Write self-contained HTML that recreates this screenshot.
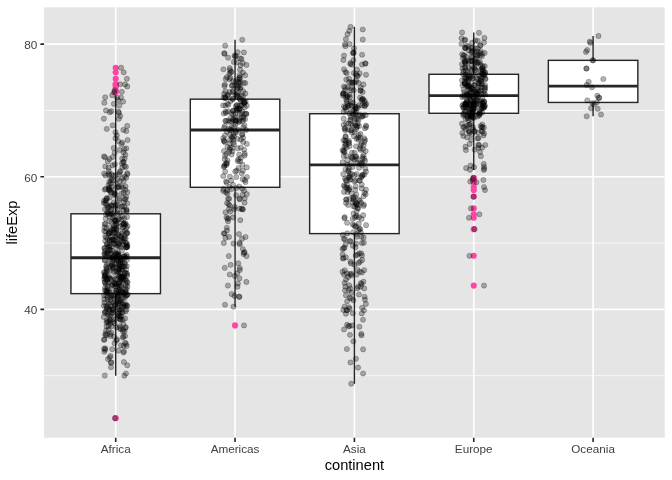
<!DOCTYPE html>
<html><head><meta charset="utf-8"><title>lifeExp by continent</title>
<style>html,body{margin:0;padding:0;background:#fff}svg{display:block;will-change:transform;font-family:"Liberation Sans",sans-serif}</style>
</head><body>
<svg width="672" height="480" viewBox="0 0 672 480">
<rect width="672" height="480" fill="#fff"/>
<rect x="44.1" y="7.3" width="620.6" height="430.4" fill="#E5E5E5"/>
<path d="M44.1 375.69H664.7M44.1 243.06H664.7M44.1 110.44H664.7" stroke="#fff" stroke-width="0.71" fill="none"/>
<path d="M44.1 309.38H664.7M44.1 176.75H664.7M44.1 44.12H664.7M115.71 7.3V437.7M235.05 7.3V437.7M354.4 7.3V437.7M473.75 7.3V437.7M593.09 7.3V437.7" stroke="#fff" stroke-width="1.6" fill="none"/>
<g fill="#FF46A5"><circle cx="115.71" cy="418.14" r="3.07"/><circle cx="115.71" cy="92.29" r="3.07"/><circle cx="115.71" cy="91.86" r="3.07"/><circle cx="115.71" cy="90.27" r="3.07"/><circle cx="115.71" cy="86.47" r="3.07"/><circle cx="115.71" cy="84.42" r="3.07"/><circle cx="115.71" cy="84.23" r="3.07"/><circle cx="115.71" cy="78.79" r="3.07"/><circle cx="115.71" cy="72.35" r="3.07"/><circle cx="115.71" cy="67.72" r="3.07"/><circle cx="235.05" cy="325.43" r="3.07"/><circle cx="473.75" cy="285.6" r="3.07"/><circle cx="473.75" cy="255.8" r="3.07"/><circle cx="473.75" cy="229.15" r="3.07"/><circle cx="473.75" cy="217.73" r="3.07"/><circle cx="473.75" cy="214.31" r="3.07"/><circle cx="473.75" cy="208.38" r="3.07"/><circle cx="473.75" cy="196.61" r="3.07"/><circle cx="473.75" cy="190.04" r="3.07"/><circle cx="473.75" cy="187.03" r="3.07"/><circle cx="473.75" cy="182.29" r="3.07"/><circle cx="473.75" cy="181.53" r="3.07"/><circle cx="473.75" cy="180.02" r="3.07"/><circle cx="473.75" cy="179.4" r="3.07"/><circle cx="473.75" cy="177.94" r="3.07"/></g>
<g stroke="#262626" stroke-width="1.42" fill="none"><path d="M115.71 95.18V213.81M115.71 293.64V375.69" /><rect x="70.95" y="213.81" width="89.51" height="79.83" fill="#fff"/><path d="M70.95 257.71H160.46" stroke-width="2.85"/><path d="M235.05 39.79V99.17M235.05 187.29V306.63" /><rect x="190.3" y="99.17" width="89.51" height="88.13" fill="#fff"/><path d="M190.3 130.01H279.81" stroke-width="2.85"/><path d="M354.4 26.86V113.72M354.4 233.61V383.64" /><rect x="309.65" y="113.72" width="89.51" height="119.89" fill="#fff"/><path d="M309.65 164.87H399.15" stroke-width="2.85"/><path d="M473.75 32.47V74.29M473.75 113.29V169.88" /><rect x="428.99" y="74.29" width="89.51" height="39" fill="#fff"/><path d="M428.99 95.58H518.5" stroke-width="2.85"/><path d="M593.09 35.94V60.35M593.09 102.45V116.27" /><rect x="548.34" y="60.35" width="89.51" height="42.09" fill="#fff"/><path d="M548.34 86.13H637.85" stroke-width="2.85"/></g>
<g fill="#000" fill-opacity=".29" stroke="#000" stroke-opacity=".26" stroke-width=".94"><circle cx="351.25" cy="383.64" r="2.6"/><circle cx="363.1" cy="373.49" r="2.6"/><circle cx="350.5" cy="362.45" r="2.6"/><circle cx="346.9" cy="349.03" r="2.6"/><circle cx="361.5" cy="335.32" r="2.6"/><circle cx="363" cy="319.73" r="2.6"/><circle cx="364" cy="310.34" r="2.6"/><circle cx="365.9" cy="303.93" r="2.6"/><circle cx="351" cy="298.28" r="2.6"/><circle cx="349.6" cy="297.69" r="2.6"/><circle cx="345.9" cy="295.26" r="2.6"/><circle cx="361.65" cy="283.99" r="2.6"/><circle cx="470.9" cy="208.38" r="2.6"/><circle cx="470.25" cy="181.53" r="2.6"/><circle cx="478.4" cy="144.79" r="2.6"/><circle cx="483.52" cy="135.5" r="2.6"/><circle cx="466.9" cy="125.76" r="2.6"/><circle cx="472.6" cy="117.53" r="2.6"/><circle cx="484.04" cy="107.65" r="2.6"/><circle cx="462.41" cy="97.18" r="2.6"/><circle cx="476.15" cy="99.95" r="2.6"/><circle cx="484.49" cy="90.88" r="2.6"/><circle cx="467.31" cy="72.96" r="2.6"/><circle cx="474.9" cy="67.85" r="2.6"/><circle cx="125.47" cy="288.97" r="2.6"/><circle cx="106.95" cy="271.68" r="2.6"/><circle cx="116.27" cy="254.32" r="2.6"/><circle cx="121.68" cy="233.73" r="2.6"/><circle cx="119.74" cy="213.1" r="2.6"/><circle cx="114.94" cy="189.92" r="2.6"/><circle cx="108.66" cy="167.68" r="2.6"/><circle cx="115.49" cy="138.3" r="2.6"/><circle cx="112.66" cy="125.4" r="2.6"/><circle cx="120.2" cy="116.06" r="2.6"/><circle cx="113.9" cy="103.85" r="2.6"/><circle cx="112.2" cy="95.18" r="2.6"/><circle cx="104.75" cy="375.59" r="2.6"/><circle cx="111.4" cy="362.43" r="2.6"/><circle cx="112.25" cy="349.16" r="2.6"/><circle cx="110.36" cy="336" r="2.6"/><circle cx="114.58" cy="323.12" r="2.6"/><circle cx="112.2" cy="312.8" r="2.6"/><circle cx="119.46" cy="309.76" r="2.6"/><circle cx="112.61" cy="310" r="2.6"/><circle cx="114.73" cy="305.09" r="2.6"/><circle cx="120.94" cy="302.99" r="2.6"/><circle cx="113.63" cy="302.73" r="2.6"/><circle cx="125.41" cy="291.27" r="2.6"/><circle cx="227.43" cy="160.27" r="2.6"/><circle cx="240.81" cy="147.58" r="2.6"/><circle cx="233.2" cy="142.65" r="2.6"/><circle cx="233.3" cy="139.39" r="2.6"/><circle cx="238.26" cy="129.9" r="2.6"/><circle cx="235.6" cy="120.51" r="2.6"/><circle cx="233.02" cy="110.82" r="2.6"/><circle cx="223.15" cy="105.31" r="2.6"/><circle cx="225.32" cy="98.05" r="2.6"/><circle cx="240.05" cy="88.72" r="2.6"/><circle cx="235.63" cy="81.66" r="2.6"/><circle cx="239.74" cy="75.16" r="2.6"/><circle cx="586.7" cy="116.27" r="2.6"/><circle cx="591.1" cy="108.25" r="2.6"/><circle cx="594" cy="104.27" r="2.6"/><circle cx="592.4" cy="103.14" r="2.6"/><circle cx="598.9" cy="97.64" r="2.6"/><circle cx="592" cy="87.29" r="2.6"/><circle cx="603.3" cy="79.01" r="2.6"/><circle cx="586.3" cy="68.53" r="2.6"/><circle cx="592.6" cy="60.31" r="2.6"/><circle cx="586" cy="51.88" r="2.6"/><circle cx="589.8" cy="41.67" r="2.6"/><circle cx="598.5" cy="35.94" r="2.6"/><circle cx="469.18" cy="131.66" r="2.6"/><circle cx="472.86" cy="127.15" r="2.6"/><circle cx="479.52" cy="113.49" r="2.6"/><circle cx="473.41" cy="109.51" r="2.6"/><circle cx="465.08" cy="106.26" r="2.6"/><circle cx="470.01" cy="96.05" r="2.6"/><circle cx="469.56" cy="89.35" r="2.6"/><circle cx="468.98" cy="77.68" r="2.6"/><circle cx="465.76" cy="70.38" r="2.6"/><circle cx="471.71" cy="60.64" r="2.6"/><circle cx="472.51" cy="50.89" r="2.6"/><circle cx="480.31" cy="45.26" r="2.6"/><circle cx="361.47" cy="236.84" r="2.6"/><circle cx="354.93" cy="217.65" r="2.6"/><circle cx="353.46" cy="197.16" r="2.6"/><circle cx="361.04" cy="177.26" r="2.6"/><circle cx="363.64" cy="154.87" r="2.6"/><circle cx="358.58" cy="139.66" r="2.6"/><circle cx="361.57" cy="116.72" r="2.6"/><circle cx="364.88" cy="105.46" r="2.6"/><circle cx="343.44" cy="93.19" r="2.6"/><circle cx="363.37" cy="84.41" r="2.6"/><circle cx="349.07" cy="78.64" r="2.6"/><circle cx="353.82" cy="73.07" r="2.6"/><circle cx="349.6" cy="326.06" r="2.6"/><circle cx="345.9" cy="313.7" r="2.6"/><circle cx="347.1" cy="301.31" r="2.6"/><circle cx="358.19" cy="286.48" r="2.6"/><circle cx="344.12" cy="274.55" r="2.6"/><circle cx="350.99" cy="263.47" r="2.6"/><circle cx="361.87" cy="243" r="2.6"/><circle cx="352.67" cy="224.37" r="2.6"/><circle cx="356.78" cy="203.16" r="2.6"/><circle cx="359.85" cy="180.65" r="2.6"/><circle cx="362.07" cy="163.4" r="2.6"/><circle cx="360.62" cy="149.81" r="2.6"/><circle cx="461.98" cy="123.7" r="2.6"/><circle cx="471.84" cy="115.48" r="2.6"/><circle cx="472.87" cy="108.78" r="2.6"/><circle cx="463.14" cy="104.2" r="2.6"/><circle cx="474.74" cy="100.89" r="2.6"/><circle cx="476.32" cy="91.87" r="2.6"/><circle cx="481.59" cy="84.38" r="2.6"/><circle cx="484.29" cy="74.96" r="2.6"/><circle cx="464.87" cy="67.6" r="2.6"/><circle cx="467.31" cy="60.5" r="2.6"/><circle cx="477.55" cy="55.27" r="2.6"/><circle cx="464.97" cy="47.83" r="2.6"/><circle cx="109.12" cy="321.16" r="2.6"/><circle cx="117.49" cy="307" r="2.6"/><circle cx="107.82" cy="292.02" r="2.6"/><circle cx="122.44" cy="276.98" r="2.6"/><circle cx="124.23" cy="262.86" r="2.6"/><circle cx="104.58" cy="248.43" r="2.6"/><circle cx="116.49" cy="237.07" r="2.6"/><circle cx="122.8" cy="227.57" r="2.6"/><circle cx="127.05" cy="217.08" r="2.6"/><circle cx="110.32" cy="211.39" r="2.6"/><circle cx="107.81" cy="213.85" r="2.6"/><circle cx="124.7" cy="198.45" r="2.6"/><circle cx="233.5" cy="306.63" r="2.6"/><circle cx="239.4" cy="296.84" r="2.6"/><circle cx="237.5" cy="286.64" r="2.6"/><circle cx="234.75" cy="276.01" r="2.6"/><circle cx="230.6" cy="264.85" r="2.6"/><circle cx="223.8" cy="242.91" r="2.6"/><circle cx="233" cy="217.47" r="2.6"/><circle cx="242.4" cy="194.98" r="2.6"/><circle cx="236.24" cy="177.04" r="2.6"/><circle cx="227.05" cy="163.16" r="2.6"/><circle cx="223.97" cy="151" r="2.6"/><circle cx="229.84" cy="139.92" r="2.6"/><circle cx="469" cy="217.73" r="2.6"/><circle cx="484" cy="187.03" r="2.6"/><circle cx="483.75" cy="163.95" r="2.6"/><circle cx="485.25" cy="144.99" r="2.6"/><circle cx="463.33" cy="127.35" r="2.6"/><circle cx="465.38" cy="111.37" r="2.6"/><circle cx="462.37" cy="105.86" r="2.6"/><circle cx="474.34" cy="102.88" r="2.6"/><circle cx="478.44" cy="95.99" r="2.6"/><circle cx="472" cy="88.93" r="2.6"/><circle cx="465.02" cy="83.32" r="2.6"/><circle cx="469.72" cy="78.26" r="2.6"/><circle cx="117.86" cy="258.83" r="2.6"/><circle cx="126.23" cy="245.6" r="2.6"/><circle cx="127.46" cy="232.98" r="2.6"/><circle cx="109.54" cy="221.19" r="2.6"/><circle cx="104.03" cy="203.12" r="2.6"/><circle cx="123.6" cy="181.27" r="2.6"/><circle cx="125.89" cy="166.91" r="2.6"/><circle cx="114.72" cy="152.73" r="2.6"/><circle cx="122.19" cy="158.55" r="2.6"/><circle cx="124.45" cy="226.11" r="2.6"/><circle cx="118.32" cy="265.38" r="2.6"/><circle cx="124.6" cy="238.24" r="2.6"/><circle cx="245.5" cy="236.98" r="2.6"/><circle cx="228" cy="221.28" r="2.6"/><circle cx="229.74" cy="205.5" r="2.6"/><circle cx="226" cy="192.45" r="2.6"/><circle cx="244.86" cy="180.04" r="2.6"/><circle cx="223.85" cy="166.88" r="2.6"/><circle cx="239.17" cy="154.63" r="2.6"/><circle cx="224.82" cy="142.23" r="2.6"/><circle cx="231.73" cy="129.95" r="2.6"/><circle cx="233.1" cy="114.5" r="2.6"/><circle cx="227.45" cy="103.77" r="2.6"/><circle cx="235.56" cy="94.59" r="2.6"/><circle cx="472.5" cy="179.4" r="2.6"/><circle cx="469.38" cy="132.92" r="2.6"/><circle cx="479.41" cy="113.69" r="2.6"/><circle cx="465.64" cy="107.65" r="2.6"/><circle cx="466.41" cy="104.47" r="2.6"/><circle cx="470.27" cy="105.07" r="2.6"/><circle cx="470.84" cy="103.28" r="2.6"/><circle cx="466.74" cy="101.55" r="2.6"/><circle cx="483.74" cy="102.55" r="2.6"/><circle cx="481.58" cy="108.32" r="2.6"/><circle cx="464.36" cy="96.25" r="2.6"/><circle cx="470.63" cy="90.51" r="2.6"/><circle cx="110.8" cy="362.59" r="2.6"/><circle cx="114.54" cy="343.16" r="2.6"/><circle cx="110.37" cy="323.87" r="2.6"/><circle cx="115.75" cy="304.75" r="2.6"/><circle cx="125.79" cy="285.56" r="2.6"/><circle cx="112.9" cy="268.68" r="2.6"/><circle cx="119.29" cy="255.52" r="2.6"/><circle cx="117.99" cy="246" r="2.6"/><circle cx="121.72" cy="241.34" r="2.6"/><circle cx="105.24" cy="240.92" r="2.6"/><circle cx="121.55" cy="238.75" r="2.6"/><circle cx="126.36" cy="227.84" r="2.6"/><circle cx="118.18" cy="315.8" r="2.6"/><circle cx="110.64" cy="305.84" r="2.6"/><circle cx="119.82" cy="295.82" r="2.6"/><circle cx="120.77" cy="285.85" r="2.6"/><circle cx="119.44" cy="282.47" r="2.6"/><circle cx="107.28" cy="270.19" r="2.6"/><circle cx="127.01" cy="259.83" r="2.6"/><circle cx="126.58" cy="254.93" r="2.6"/><circle cx="113.91" cy="277.97" r="2.6"/><circle cx="117.94" cy="274.06" r="2.6"/><circle cx="104.72" cy="260.57" r="2.6"/><circle cx="127.37" cy="245.85" r="2.6"/><circle cx="352.75" cy="313.24" r="2.6"/><circle cx="353.4" cy="300.32" r="2.6"/><circle cx="360.63" cy="286.73" r="2.6"/><circle cx="346.95" cy="273.47" r="2.6"/><circle cx="349" cy="307.27" r="2.6"/><circle cx="358.1" cy="367.6" r="2.6"/><circle cx="356.69" cy="236.72" r="2.6"/><circle cx="344.66" cy="217.11" r="2.6"/><circle cx="363.84" cy="204.58" r="2.6"/><circle cx="353.5" cy="199.73" r="2.6"/><circle cx="353.08" cy="198.29" r="2.6"/><circle cx="344.96" cy="178.59" r="2.6"/><circle cx="120.12" cy="319.17" r="2.6"/><circle cx="123.27" cy="306.54" r="2.6"/><circle cx="118.8" cy="291.85" r="2.6"/><circle cx="109.55" cy="277.55" r="2.6"/><circle cx="122.52" cy="262.63" r="2.6"/><circle cx="107.25" cy="247.34" r="2.6"/><circle cx="123.52" cy="223.43" r="2.6"/><circle cx="117.63" cy="210.01" r="2.6"/><circle cx="110.68" cy="214.46" r="2.6"/><circle cx="116.02" cy="228.48" r="2.6"/><circle cx="118.78" cy="244.02" r="2.6"/><circle cx="109.95" cy="240.21" r="2.6"/><circle cx="243.33" cy="118.73" r="2.6"/><circle cx="233.17" cy="110.7" r="2.6"/><circle cx="244.42" cy="101.82" r="2.6"/><circle cx="243.06" cy="96.31" r="2.6"/><circle cx="225.49" cy="91.34" r="2.6"/><circle cx="238.54" cy="82.52" r="2.6"/><circle cx="230.53" cy="72.24" r="2.6"/><circle cx="246.4" cy="64.95" r="2.6"/><circle cx="228.1" cy="57.72" r="2.6"/><circle cx="224.3" cy="53.34" r="2.6"/><circle cx="225.2" cy="45.65" r="2.6"/><circle cx="242.25" cy="39.79" r="2.6"/><circle cx="117.08" cy="339.46" r="2.6"/><circle cx="111.6" cy="326.19" r="2.6"/><circle cx="104.62" cy="312.86" r="2.6"/><circle cx="121.76" cy="299.58" r="2.6"/><circle cx="117.18" cy="286.45" r="2.6"/><circle cx="125.12" cy="264.45" r="2.6"/><circle cx="118.05" cy="254.37" r="2.6"/><circle cx="111.82" cy="239.85" r="2.6"/><circle cx="127.29" cy="247.07" r="2.6"/><circle cx="106.54" cy="269.15" r="2.6"/><circle cx="105.03" cy="287.44" r="2.6"/><circle cx="121.26" cy="277.94" r="2.6"/><circle cx="112.63" cy="322.03" r="2.6"/><circle cx="112.4" cy="310.17" r="2.6"/><circle cx="124.7" cy="298" r="2.6"/><circle cx="111.59" cy="285.5" r="2.6"/><circle cx="124.99" cy="272.45" r="2.6"/><circle cx="119.14" cy="260.42" r="2.6"/><circle cx="111.63" cy="246.27" r="2.6"/><circle cx="105.19" cy="236.09" r="2.6"/><circle cx="109.62" cy="231.63" r="2.6"/><circle cx="126.89" cy="232.63" r="2.6"/><circle cx="113.45" cy="239.58" r="2.6"/><circle cx="107.59" cy="238.75" r="2.6"/><circle cx="230.23" cy="211.6" r="2.6"/><circle cx="244.59" cy="202.79" r="2.6"/><circle cx="227.06" cy="190.52" r="2.6"/><circle cx="241.69" cy="173.28" r="2.6"/><circle cx="226.34" cy="153.93" r="2.6"/><circle cx="246.07" cy="129.99" r="2.6"/><circle cx="235.77" cy="106.69" r="2.6"/><circle cx="224.15" cy="93.91" r="2.6"/><circle cx="245.34" cy="83.08" r="2.6"/><circle cx="231.67" cy="71.87" r="2.6"/><circle cx="240" cy="58.32" r="2.6"/><circle cx="224.5" cy="53.72" r="2.6"/><circle cx="344.68" cy="282.85" r="2.6"/><circle cx="345" cy="239.42" r="2.6"/><circle cx="346.03" cy="279.53" r="2.6"/><circle cx="346.31" cy="187.49" r="2.6"/><circle cx="343.72" cy="156.07" r="2.6"/><circle cx="343.59" cy="150.44" r="2.6"/><circle cx="365.1" cy="140.11" r="2.6"/><circle cx="344.64" cy="128.51" r="2.6"/><circle cx="354.6" cy="119.12" r="2.6"/><circle cx="345.3" cy="107.61" r="2.6"/><circle cx="347.59" cy="96.99" r="2.6"/><circle cx="360.68" cy="90.8" r="2.6"/><circle cx="242" cy="238.8" r="2.6"/><circle cx="234.33" cy="209.12" r="2.6"/><circle cx="223.25" cy="190.92" r="2.6"/><circle cx="246.97" cy="177" r="2.6"/><circle cx="224.26" cy="165.99" r="2.6"/><circle cx="232.42" cy="151.31" r="2.6"/><circle cx="235.99" cy="132.63" r="2.6"/><circle cx="244.4" cy="125.24" r="2.6"/><circle cx="242.77" cy="120.91" r="2.6"/><circle cx="237.66" cy="108.36" r="2.6"/><circle cx="232.63" cy="99.28" r="2.6"/><circle cx="243.04" cy="91.28" r="2.6"/><circle cx="124.52" cy="304.64" r="2.6"/><circle cx="124.58" cy="293.06" r="2.6"/><circle cx="120.9" cy="279.75" r="2.6"/><circle cx="106.11" cy="266.46" r="2.6"/><circle cx="110.9" cy="250.07" r="2.6"/><circle cx="115.37" cy="236.84" r="2.6"/><circle cx="115.83" cy="223.61" r="2.6"/><circle cx="123.65" cy="210.4" r="2.6"/><circle cx="109.45" cy="190.42" r="2.6"/><circle cx="119.64" cy="172.37" r="2.6"/><circle cx="112.7" cy="157.03" r="2.6"/><circle cx="122.28" cy="142.59" r="2.6"/><circle cx="108.45" cy="315.06" r="2.6"/><circle cx="115.15" cy="305.05" r="2.6"/><circle cx="106.24" cy="295.3" r="2.6"/><circle cx="108.83" cy="282.48" r="2.6"/><circle cx="126.09" cy="269.66" r="2.6"/><circle cx="111.32" cy="257.63" r="2.6"/><circle cx="125.09" cy="257.76" r="2.6"/><circle cx="116.29" cy="260.23" r="2.6"/><circle cx="104.7" cy="272.59" r="2.6"/><circle cx="122.7" cy="292.22" r="2.6"/><circle cx="105.01" cy="276.45" r="2.6"/><circle cx="123.51" cy="266.53" r="2.6"/><circle cx="103.98" cy="295.38" r="2.6"/><circle cx="119.86" cy="275.87" r="2.6"/><circle cx="107.73" cy="253.44" r="2.6"/><circle cx="111.96" cy="229.54" r="2.6"/><circle cx="126.51" cy="210.52" r="2.6"/><circle cx="115.38" cy="205.76" r="2.6"/><circle cx="119.47" cy="198.67" r="2.6"/><circle cx="121.45" cy="193.53" r="2.6"/><circle cx="106.4" cy="200.4" r="2.6"/><circle cx="123.79" cy="223.42" r="2.6"/><circle cx="125.59" cy="223.37" r="2.6"/><circle cx="107.48" cy="207.77" r="2.6"/><circle cx="236.16" cy="195.28" r="2.6"/><circle cx="229.89" cy="176.58" r="2.6"/><circle cx="240.8" cy="157.9" r="2.6"/><circle cx="223.79" cy="140.78" r="2.6"/><circle cx="235.35" cy="124.7" r="2.6"/><circle cx="242.04" cy="105.46" r="2.6"/><circle cx="240.66" cy="87.56" r="2.6"/><circle cx="225.7" cy="78.93" r="2.6"/><circle cx="243" cy="72.55" r="2.6"/><circle cx="236.8" cy="62.29" r="2.6"/><circle cx="235.2" cy="56.57" r="2.6"/><circle cx="237.7" cy="52.2" r="2.6"/><circle cx="107.61" cy="306.21" r="2.6"/><circle cx="121.29" cy="293" r="2.6"/><circle cx="123.06" cy="276.68" r="2.6"/><circle cx="120.46" cy="260.64" r="2.6"/><circle cx="126.8" cy="244.38" r="2.6"/><circle cx="109.89" cy="227.32" r="2.6"/><circle cx="109.4" cy="216.65" r="2.6"/><circle cx="107.29" cy="212.19" r="2.6"/><circle cx="116.65" cy="229.51" r="2.6"/><circle cx="113.31" cy="256.39" r="2.6"/><circle cx="112.29" cy="264.07" r="2.6"/><circle cx="114.76" cy="254.15" r="2.6"/><circle cx="484.2" cy="168.73" r="2.6"/><circle cx="479" cy="145.12" r="2.6"/><circle cx="473.07" cy="129.47" r="2.6"/><circle cx="468.4" cy="120.38" r="2.6"/><circle cx="472.55" cy="113.02" r="2.6"/><circle cx="483.98" cy="106.19" r="2.6"/><circle cx="466.08" cy="107.39" r="2.6"/><circle cx="477.03" cy="100.36" r="2.6"/><circle cx="477.19" cy="93.68" r="2.6"/><circle cx="468.53" cy="86.03" r="2.6"/><circle cx="473.05" cy="78.1" r="2.6"/><circle cx="484.96" cy="72.32" r="2.6"/><circle cx="231.29" cy="180.59" r="2.6"/><circle cx="240.12" cy="161.33" r="2.6"/><circle cx="243.17" cy="141.96" r="2.6"/><circle cx="231.73" cy="121.78" r="2.6"/><circle cx="246.75" cy="105.64" r="2.6"/><circle cx="238.06" cy="92.87" r="2.6"/><circle cx="235.08" cy="85.79" r="2.6"/><circle cx="240.18" cy="82.76" r="2.6"/><circle cx="233.24" cy="81.17" r="2.6"/><circle cx="240.12" cy="69.65" r="2.6"/><circle cx="242.7" cy="62.97" r="2.6"/><circle cx="234.5" cy="55.58" r="2.6"/><circle cx="474.75" cy="131.19" r="2.6"/><circle cx="467.58" cy="116.87" r="2.6"/><circle cx="472.25" cy="111.1" r="2.6"/><circle cx="483.18" cy="107.92" r="2.6"/><circle cx="481.08" cy="108.51" r="2.6"/><circle cx="473.38" cy="105.73" r="2.6"/><circle cx="470.21" cy="104.07" r="2.6"/><circle cx="470.79" cy="99.96" r="2.6"/><circle cx="485.23" cy="94.52" r="2.6"/><circle cx="464.49" cy="83.85" r="2.6"/><circle cx="483.03" cy="73.9" r="2.6"/><circle cx="482.28" cy="67.43" r="2.6"/><circle cx="467.17" cy="105.27" r="2.6"/><circle cx="470.15" cy="98.44" r="2.6"/><circle cx="475.41" cy="94.85" r="2.6"/><circle cx="480.96" cy="90.81" r="2.6"/><circle cx="484.5" cy="87.43" r="2.6"/><circle cx="485.49" cy="79.34" r="2.6"/><circle cx="468.52" cy="79.73" r="2.6"/><circle cx="466.4" cy="78.61" r="2.6"/><circle cx="473.45" cy="75.09" r="2.6"/><circle cx="475.12" cy="69.92" r="2.6"/><circle cx="477.49" cy="62.83" r="2.6"/><circle cx="464.38" cy="55.19" r="2.6"/><circle cx="126" cy="343.78" r="2.6"/><circle cx="125.77" cy="327.1" r="2.6"/><circle cx="125.62" cy="311.41" r="2.6"/><circle cx="126.3" cy="295.62" r="2.6"/><circle cx="125.79" cy="280.42" r="2.6"/><circle cx="126.71" cy="266.15" r="2.6"/><circle cx="104.94" cy="250.94" r="2.6"/><circle cx="125.64" cy="242.8" r="2.6"/><circle cx="110.25" cy="232.43" r="2.6"/><circle cx="111.43" cy="222.13" r="2.6"/><circle cx="114.72" cy="220.7" r="2.6"/><circle cx="126.57" cy="211.29" r="2.6"/><circle cx="239.75" cy="270.07" r="2.6"/><circle cx="239.8" cy="244.2" r="2.6"/><circle cx="240.3" cy="220.13" r="2.6"/><circle cx="244.72" cy="198.3" r="2.6"/><circle cx="242.75" cy="179.2" r="2.6"/><circle cx="226.4" cy="164.89" r="2.6"/><circle cx="229.06" cy="152.04" r="2.6"/><circle cx="232" cy="136.66" r="2.6"/><circle cx="228.29" cy="120.67" r="2.6"/><circle cx="236.57" cy="110.72" r="2.6"/><circle cx="228.46" cy="104.82" r="2.6"/><circle cx="236.84" cy="95.62" r="2.6"/><circle cx="243.5" cy="253.96" r="2.6"/><circle cx="239" cy="234.07" r="2.6"/><circle cx="225.49" cy="212.29" r="2.6"/><circle cx="228.06" cy="198.78" r="2.6"/><circle cx="232.97" cy="184.73" r="2.6"/><circle cx="238.54" cy="168.06" r="2.6"/><circle cx="232.35" cy="147.96" r="2.6"/><circle cx="229.13" cy="128.8" r="2.6"/><circle cx="231.35" cy="113" r="2.6"/><circle cx="227.99" cy="95.11" r="2.6"/><circle cx="243.69" cy="82.77" r="2.6"/><circle cx="239.76" cy="77.32" r="2.6"/><circle cx="113.58" cy="296.82" r="2.6"/><circle cx="120.49" cy="279.91" r="2.6"/><circle cx="116.18" cy="263.01" r="2.6"/><circle cx="116.33" cy="247.75" r="2.6"/><circle cx="112.54" cy="235.52" r="2.6"/><circle cx="115.43" cy="221.05" r="2.6"/><circle cx="127.3" cy="203.24" r="2.6"/><circle cx="122.5" cy="178.1" r="2.6"/><circle cx="123.53" cy="152.39" r="2.6"/><circle cx="106.74" cy="128.89" r="2.6"/><circle cx="118.5" cy="111.72" r="2.6"/><circle cx="123.1" cy="101.57" r="2.6"/><circle cx="229.75" cy="274.48" r="2.6"/><circle cx="244.2" cy="252.55" r="2.6"/><circle cx="226.8" cy="227.77" r="2.6"/><circle cx="228.71" cy="204.24" r="2.6"/><circle cx="242.19" cy="188.64" r="2.6"/><circle cx="239.5" cy="198.66" r="2.6"/><circle cx="239.79" cy="199.27" r="2.6"/><circle cx="225.01" cy="155.84" r="2.6"/><circle cx="227.03" cy="131.67" r="2.6"/><circle cx="223.63" cy="113.52" r="2.6"/><circle cx="225.45" cy="105.57" r="2.6"/><circle cx="225.54" cy="97.98" r="2.6"/><circle cx="126.69" cy="345.97" r="2.6"/><circle cx="125.11" cy="336.01" r="2.6"/><circle cx="108.65" cy="326.05" r="2.6"/><circle cx="109.83" cy="316.09" r="2.6"/><circle cx="126.71" cy="305.95" r="2.6"/><circle cx="117.38" cy="295.95" r="2.6"/><circle cx="112.57" cy="285.09" r="2.6"/><circle cx="114.91" cy="271.82" r="2.6"/><circle cx="110.27" cy="259.34" r="2.6"/><circle cx="117.7" cy="254.7" r="2.6"/><circle cx="121.08" cy="247.39" r="2.6"/><circle cx="116.08" cy="232.59" r="2.6"/><circle cx="123.36" cy="336.38" r="2.6"/><circle cx="106.48" cy="322.33" r="2.6"/><circle cx="118.18" cy="308.33" r="2.6"/><circle cx="127.39" cy="294.86" r="2.6"/><circle cx="107.33" cy="281.91" r="2.6"/><circle cx="115.59" cy="279.3" r="2.6"/><circle cx="118.81" cy="283.58" r="2.6"/><circle cx="111.83" cy="266.58" r="2.6"/><circle cx="126.8" cy="243.12" r="2.6"/><circle cx="115.36" cy="220.66" r="2.6"/><circle cx="115.2" cy="208.32" r="2.6"/><circle cx="125.32" cy="189.75" r="2.6"/><circle cx="104.15" cy="348.65" r="2.6"/><circle cx="124.51" cy="331.48" r="2.6"/><circle cx="106.85" cy="308.99" r="2.6"/><circle cx="112.82" cy="295.35" r="2.6"/><circle cx="115.43" cy="286.07" r="2.6"/><circle cx="115.15" cy="279.47" r="2.6"/><circle cx="104.71" cy="276.78" r="2.6"/><circle cx="111.34" cy="265.05" r="2.6"/><circle cx="112.29" cy="255.72" r="2.6"/><circle cx="126.6" cy="247.03" r="2.6"/><circle cx="125.66" cy="238.26" r="2.6"/><circle cx="117.72" cy="223.52" r="2.6"/><circle cx="484.09" cy="133.32" r="2.6"/><circle cx="482.43" cy="127.08" r="2.6"/><circle cx="470.78" cy="118.73" r="2.6"/><circle cx="464.6" cy="111.57" r="2.6"/><circle cx="476.3" cy="104.67" r="2.6"/><circle cx="469.52" cy="93.73" r="2.6"/><circle cx="462.04" cy="80.27" r="2.6"/><circle cx="485.23" cy="78.41" r="2.6"/><circle cx="484.95" cy="72.64" r="2.6"/><circle cx="474.62" cy="63.16" r="2.6"/><circle cx="476.57" cy="54.93" r="2.6"/><circle cx="477.78" cy="48.68" r="2.6"/><circle cx="483.93" cy="127.61" r="2.6"/><circle cx="472.97" cy="117.53" r="2.6"/><circle cx="475.72" cy="107.06" r="2.6"/><circle cx="467.22" cy="100.16" r="2.6"/><circle cx="467.6" cy="94.66" r="2.6"/><circle cx="474.27" cy="85.04" r="2.6"/><circle cx="467.28" cy="78.01" r="2.6"/><circle cx="462.53" cy="68.4" r="2.6"/><circle cx="470.61" cy="60.97" r="2.6"/><circle cx="479.71" cy="53.14" r="2.6"/><circle cx="468.42" cy="46.84" r="2.6"/><circle cx="464.8" cy="39.77" r="2.6"/><circle cx="120.54" cy="329.25" r="2.6"/><circle cx="119.37" cy="316.01" r="2.6"/><circle cx="125.08" cy="306.13" r="2.6"/><circle cx="105.53" cy="278.89" r="2.6"/><circle cx="108.04" cy="251.75" r="2.6"/><circle cx="125.48" cy="224.56" r="2.6"/><circle cx="125.42" cy="199.54" r="2.6"/><circle cx="105.64" cy="175.49" r="2.6"/><circle cx="122.25" cy="167.69" r="2.6"/><circle cx="104.14" cy="173.69" r="2.6"/><circle cx="107" cy="198.23" r="2.6"/><circle cx="106.39" cy="198.4" r="2.6"/><circle cx="124.3" cy="375.69" r="2.6"/><circle cx="123.9" cy="362" r="2.6"/><circle cx="105.2" cy="349.85" r="2.6"/><circle cx="114.19" cy="336.85" r="2.6"/><circle cx="106.73" cy="320.6" r="2.6"/><circle cx="110.27" cy="297.16" r="2.6"/><circle cx="103.93" cy="272.37" r="2.6"/><circle cx="104.44" cy="247.94" r="2.6"/><circle cx="114.06" cy="225.53" r="2.6"/><circle cx="116" cy="204.2" r="2.6"/><circle cx="109.74" cy="189.74" r="2.6"/><circle cx="112.84" cy="180.41" r="2.6"/><circle cx="464.28" cy="127.02" r="2.6"/><circle cx="477.54" cy="116.41" r="2.6"/><circle cx="471.18" cy="108.45" r="2.6"/><circle cx="465.67" cy="105.13" r="2.6"/><circle cx="473.68" cy="103.81" r="2.6"/><circle cx="466.79" cy="93.86" r="2.6"/><circle cx="468.78" cy="85.24" r="2.6"/><circle cx="464.78" cy="78.3" r="2.6"/><circle cx="480.45" cy="70.19" r="2.6"/><circle cx="468.48" cy="61.76" r="2.6"/><circle cx="484.62" cy="52.94" r="2.6"/><circle cx="471.49" cy="48.06" r="2.6"/><circle cx="107.48" cy="288.49" r="2.6"/><circle cx="120.61" cy="277.69" r="2.6"/><circle cx="121.28" cy="266.59" r="2.6"/><circle cx="124.81" cy="255.85" r="2.6"/><circle cx="106.91" cy="243.89" r="2.6"/><circle cx="122.63" cy="231.42" r="2.6"/><circle cx="124.29" cy="218.24" r="2.6"/><circle cx="111.04" cy="205.07" r="2.6"/><circle cx="114.62" cy="193.32" r="2.6"/><circle cx="118.56" cy="186.33" r="2.6"/><circle cx="109.63" cy="187.01" r="2.6"/><circle cx="124.57" cy="176.6" r="2.6"/><circle cx="478.5" cy="137.89" r="2.6"/><circle cx="482.26" cy="124.63" r="2.6"/><circle cx="472.55" cy="113.69" r="2.6"/><circle cx="474.2" cy="103.81" r="2.6"/><circle cx="466.45" cy="94.92" r="2.6"/><circle cx="469.31" cy="86.03" r="2.6"/><circle cx="479.22" cy="75.69" r="2.6"/><circle cx="484.7" cy="66.21" r="2.6"/><circle cx="465.44" cy="63.82" r="2.6"/><circle cx="463.02" cy="58.26" r="2.6"/><circle cx="463.42" cy="55.69" r="2.6"/><circle cx="472.21" cy="47.55" r="2.6"/><circle cx="234.5" cy="295.96" r="2.6"/><circle cx="246.4" cy="281.91" r="2.6"/><circle cx="238.25" cy="263.26" r="2.6"/><circle cx="239.5" cy="242.96" r="2.6"/><circle cx="228.5" cy="218.28" r="2.6"/><circle cx="227.03" cy="203.08" r="2.6"/><circle cx="223.47" cy="189.1" r="2.6"/><circle cx="235.21" cy="171.57" r="2.6"/><circle cx="231.6" cy="154.38" r="2.6"/><circle cx="230.09" cy="134.83" r="2.6"/><circle cx="241.55" cy="117.21" r="2.6"/><circle cx="239.43" cy="108.72" r="2.6"/><circle cx="104.3" cy="351.76" r="2.6"/><circle cx="121" cy="345.46" r="2.6"/><circle cx="122.82" cy="337.54" r="2.6"/><circle cx="125.49" cy="327.96" r="2.6"/><circle cx="103.78" cy="317.06" r="2.6"/><circle cx="123.05" cy="304.32" r="2.6"/><circle cx="104.81" cy="290.21" r="2.6"/><circle cx="120.05" cy="272.56" r="2.6"/><circle cx="118.05" cy="252.51" r="2.6"/><circle cx="126.5" cy="233.42" r="2.6"/><circle cx="118.86" cy="218.69" r="2.6"/><circle cx="105.44" cy="203.23" r="2.6"/><circle cx="108.1" cy="359.11" r="2.6"/><circle cx="123.5" cy="352.55" r="2.6"/><circle cx="123.63" cy="345.93" r="2.6"/><circle cx="104.52" cy="339.27" r="2.6"/><circle cx="111.51" cy="332.68" r="2.6"/><circle cx="119.92" cy="326.19" r="2.6"/><circle cx="107.49" cy="313.84" r="2.6"/><circle cx="119.2" cy="301.12" r="2.6"/><circle cx="120.42" cy="287.72" r="2.6"/><circle cx="121.29" cy="277.06" r="2.6"/><circle cx="124.67" cy="272.88" r="2.6"/><circle cx="113.64" cy="267.02" r="2.6"/><circle cx="244" cy="325.43" r="2.6"/><circle cx="225" cy="304.76" r="2.6"/><circle cx="227.9" cy="285.57" r="2.6"/><circle cx="239.75" cy="267.98" r="2.6"/><circle cx="228.8" cy="256.05" r="2.6"/><circle cx="233.5" cy="243.57" r="2.6"/><circle cx="224" cy="233.38" r="2.6"/><circle cx="227.5" cy="218.95" r="2.6"/><circle cx="242.36" cy="209.32" r="2.6"/><circle cx="229.17" cy="198.83" r="2.6"/><circle cx="231.28" cy="189.1" r="2.6"/><circle cx="242.83" cy="170.68" r="2.6"/><circle cx="239.1" cy="296.7" r="2.6"/><circle cx="239.5" cy="278.44" r="2.6"/><circle cx="246.5" cy="256.05" r="2.6"/><circle cx="229" cy="236.94" r="2.6"/><circle cx="226.5" cy="217.31" r="2.6"/><circle cx="246.81" cy="193.98" r="2.6"/><circle cx="236.63" cy="170.72" r="2.6"/><circle cx="227.46" cy="146.96" r="2.6"/><circle cx="242.22" cy="134.32" r="2.6"/><circle cx="224.94" cy="125.96" r="2.6"/><circle cx="232.91" cy="119.95" r="2.6"/><circle cx="236.8" cy="109.12" r="2.6"/><circle cx="348.37" cy="170.38" r="2.6"/><circle cx="363.6" cy="145.25" r="2.6"/><circle cx="359.1" cy="126.02" r="2.6"/><circle cx="346.33" cy="110.44" r="2.6"/><circle cx="346.11" cy="97.18" r="2.6"/><circle cx="343.94" cy="86.57" r="2.6"/><circle cx="356.11" cy="74.3" r="2.6"/><circle cx="344" cy="69.32" r="2.6"/><circle cx="343.4" cy="60.03" r="2.6"/><circle cx="349.6" cy="44.12" r="2.6"/><circle cx="347.5" cy="34.21" r="2.6"/><circle cx="362.75" cy="29.48" r="2.6"/><circle cx="465.9" cy="150.03" r="2.6"/><circle cx="471.77" cy="134.24" r="2.6"/><circle cx="470.96" cy="123.97" r="2.6"/><circle cx="471.81" cy="113.75" r="2.6"/><circle cx="472.79" cy="112.03" r="2.6"/><circle cx="479.87" cy="110.77" r="2.6"/><circle cx="469.1" cy="114.48" r="2.6"/><circle cx="470.01" cy="113.22" r="2.6"/><circle cx="471.13" cy="115.94" r="2.6"/><circle cx="465.42" cy="103.54" r="2.6"/><circle cx="476.86" cy="93.26" r="2.6"/><circle cx="471.37" cy="88.3" r="2.6"/><circle cx="483.68" cy="93.93" r="2.6"/><circle cx="481.42" cy="87.43" r="2.6"/><circle cx="467.31" cy="86.03" r="2.6"/><circle cx="467.6" cy="85.7" r="2.6"/><circle cx="480.48" cy="80.86" r="2.6"/><circle cx="475.18" cy="69.92" r="2.6"/><circle cx="462.06" cy="64.09" r="2.6"/><circle cx="476.85" cy="62.49" r="2.6"/><circle cx="471.24" cy="52.28" r="2.6"/><circle cx="480.55" cy="51.09" r="2.6"/><circle cx="477.75" cy="40.81" r="2.6"/><circle cx="462.1" cy="32.47" r="2.6"/><circle cx="359.4" cy="326.8" r="2.6"/><circle cx="362.1" cy="307.73" r="2.6"/><circle cx="349.26" cy="285.47" r="2.6"/><circle cx="350.55" cy="261.68" r="2.6"/><circle cx="343.88" cy="238.75" r="2.6"/><circle cx="363.16" cy="215.16" r="2.6"/><circle cx="346.15" cy="199.32" r="2.6"/><circle cx="355.62" cy="186.35" r="2.6"/><circle cx="354.62" cy="175.27" r="2.6"/><circle cx="361.89" cy="165.05" r="2.6"/><circle cx="351.73" cy="157.66" r="2.6"/><circle cx="345.87" cy="145.6" r="2.6"/><circle cx="348.4" cy="326.17" r="2.6"/><circle cx="343.4" cy="309.92" r="2.6"/><circle cx="351.5" cy="292.68" r="2.6"/><circle cx="357.5" cy="269.83" r="2.6"/><circle cx="343.83" cy="248.35" r="2.6"/><circle cx="366.09" cy="225.15" r="2.6"/><circle cx="355.26" cy="202.22" r="2.6"/><circle cx="349.63" cy="175.84" r="2.6"/><circle cx="362.37" cy="158.97" r="2.6"/><circle cx="345.75" cy="136.69" r="2.6"/><circle cx="350.15" cy="119.8" r="2.6"/><circle cx="364.83" cy="106.13" r="2.6"/><circle cx="348.19" cy="277.09" r="2.6"/><circle cx="359.96" cy="261.76" r="2.6"/><circle cx="344.4" cy="247.54" r="2.6"/><circle cx="355.18" cy="226.69" r="2.6"/><circle cx="358.17" cy="208.36" r="2.6"/><circle cx="347.47" cy="191.99" r="2.6"/><circle cx="350.29" cy="179.27" r="2.6"/><circle cx="355.61" cy="156.59" r="2.6"/><circle cx="356.55" cy="138.67" r="2.6"/><circle cx="346.15" cy="123.42" r="2.6"/><circle cx="352.27" cy="114.08" r="2.6"/><circle cx="366.33" cy="104.05" r="2.6"/><circle cx="350.16" cy="274.1" r="2.6"/><circle cx="361.21" cy="253.43" r="2.6"/><circle cx="347.28" cy="233.4" r="2.6"/><circle cx="353.47" cy="213.49" r="2.6"/><circle cx="354.83" cy="196.98" r="2.6"/><circle cx="356.69" cy="174.01" r="2.6"/><circle cx="359.6" cy="163.24" r="2.6"/><circle cx="361.46" cy="143.3" r="2.6"/><circle cx="359.18" cy="180.32" r="2.6"/><circle cx="361.73" cy="184.64" r="2.6"/><circle cx="363.61" cy="196.34" r="2.6"/><circle cx="350.25" cy="179.77" r="2.6"/><circle cx="481.56" cy="130.93" r="2.6"/><circle cx="474.22" cy="117.73" r="2.6"/><circle cx="468" cy="108.51" r="2.6"/><circle cx="465.94" cy="103.28" r="2.6"/><circle cx="480.06" cy="101.95" r="2.6"/><circle cx="477.01" cy="96.98" r="2.6"/><circle cx="463.5" cy="89.88" r="2.6"/><circle cx="475.83" cy="81.53" r="2.6"/><circle cx="462.87" cy="74.18" r="2.6"/><circle cx="471.15" cy="69.84" r="2.6"/><circle cx="475.44" cy="58.83" r="2.6"/><circle cx="477.33" cy="51.52" r="2.6"/><circle cx="346.23" cy="141.01" r="2.6"/><circle cx="343.54" cy="124.76" r="2.6"/><circle cx="356.21" cy="114.48" r="2.6"/><circle cx="362.01" cy="105.46" r="2.6"/><circle cx="361.48" cy="99.63" r="2.6"/><circle cx="351.05" cy="90.15" r="2.6"/><circle cx="356.24" cy="80.93" r="2.6"/><circle cx="359.62" cy="73.3" r="2.6"/><circle cx="362" cy="64.48" r="2.6"/><circle cx="344" cy="55.6" r="2.6"/><circle cx="345.3" cy="46.14" r="2.6"/><circle cx="345.9" cy="39.18" r="2.6"/><circle cx="467.04" cy="137.36" r="2.6"/><circle cx="468.83" cy="124.96" r="2.6"/><circle cx="479.23" cy="115.48" r="2.6"/><circle cx="482.94" cy="103.41" r="2.6"/><circle cx="473.06" cy="95.92" r="2.6"/><circle cx="478.42" cy="87.36" r="2.6"/><circle cx="465.12" cy="77.41" r="2.6"/><circle cx="473.92" cy="67.86" r="2.6"/><circle cx="472.19" cy="61.1" r="2.6"/><circle cx="472.11" cy="51.95" r="2.6"/><circle cx="484" cy="42.53" r="2.6"/><circle cx="475.25" cy="40.5" r="2.6"/><circle cx="239.16" cy="186.5" r="2.6"/><circle cx="238.31" cy="159.44" r="2.6"/><circle cx="240.85" cy="139.55" r="2.6"/><circle cx="234.06" cy="126.95" r="2.6"/><circle cx="243.47" cy="117.07" r="2.6"/><circle cx="236.75" cy="109.71" r="2.6"/><circle cx="244.17" cy="102.41" r="2.6"/><circle cx="232.91" cy="98.7" r="2.6"/><circle cx="239.83" cy="98.73" r="2.6"/><circle cx="227.82" cy="95.44" r="2.6"/><circle cx="225.1" cy="96.86" r="2.6"/><circle cx="245.35" cy="93.42" r="2.6"/><circle cx="351.32" cy="156.66" r="2.6"/><circle cx="343.56" cy="140.28" r="2.6"/><circle cx="357.23" cy="118.86" r="2.6"/><circle cx="364.74" cy="100.96" r="2.6"/><circle cx="360.82" cy="87.76" r="2.6"/><circle cx="366.03" cy="74.76" r="2.6"/><circle cx="365.25" cy="63.29" r="2.6"/><circle cx="353.7" cy="52.94" r="2.6"/><circle cx="354" cy="48.37" r="2.6"/><circle cx="362.75" cy="39.55" r="2.6"/><circle cx="349.25" cy="30.86" r="2.6"/><circle cx="350.5" cy="26.86" r="2.6"/><circle cx="364.21" cy="288.43" r="2.6"/><circle cx="342.51" cy="271.78" r="2.6"/><circle cx="361.98" cy="255.49" r="2.6"/><circle cx="360.71" cy="232.26" r="2.6"/><circle cx="358.96" cy="199.77" r="2.6"/><circle cx="345.52" cy="169.23" r="2.6"/><circle cx="343.74" cy="151.96" r="2.6"/><circle cx="360.05" cy="137.83" r="2.6"/><circle cx="357.78" cy="123.6" r="2.6"/><circle cx="351.29" cy="111.95" r="2.6"/><circle cx="350.71" cy="102.06" r="2.6"/><circle cx="343.24" cy="93.63" r="2.6"/><circle cx="127.49" cy="294.32" r="2.6"/><circle cx="123.74" cy="278.3" r="2.6"/><circle cx="127.03" cy="256.66" r="2.6"/><circle cx="123.3" cy="238.73" r="2.6"/><circle cx="114.73" cy="219.46" r="2.6"/><circle cx="123.95" cy="202.25" r="2.6"/><circle cx="108.51" cy="184.93" r="2.6"/><circle cx="119.82" cy="181.13" r="2.6"/><circle cx="109.44" cy="181.49" r="2.6"/><circle cx="113.14" cy="213.84" r="2.6"/><circle cx="124.58" cy="236.49" r="2.6"/><circle cx="113.92" cy="215.81" r="2.6"/><circle cx="363.8" cy="242.69" r="2.6"/><circle cx="356.78" cy="216" r="2.6"/><circle cx="349.48" cy="198.93" r="2.6"/><circle cx="348.68" cy="177.14" r="2.6"/><circle cx="342.55" cy="150.34" r="2.6"/><circle cx="356.12" cy="129.28" r="2.6"/><circle cx="362.48" cy="116.41" r="2.6"/><circle cx="347.83" cy="106.15" r="2.6"/><circle cx="353.9" cy="110.58" r="2.6"/><circle cx="365.95" cy="125.51" r="2.6"/><circle cx="351.86" cy="132.57" r="2.6"/><circle cx="364.87" cy="128.36" r="2.6"/><circle cx="362.2" cy="259.95" r="2.6"/><circle cx="354.27" cy="225.29" r="2.6"/><circle cx="357.63" cy="207.97" r="2.6"/><circle cx="344.03" cy="191.9" r="2.6"/><circle cx="354.79" cy="159.43" r="2.6"/><circle cx="360.6" cy="145.15" r="2.6"/><circle cx="347.96" cy="129.52" r="2.6"/><circle cx="343.69" cy="111.7" r="2.6"/><circle cx="343.17" cy="95.56" r="2.6"/><circle cx="346.29" cy="79.62" r="2.6"/><circle cx="365.5" cy="63.72" r="2.6"/><circle cx="353" cy="53.26" r="2.6"/><circle cx="353.42" cy="206.16" r="2.6"/><circle cx="355.25" cy="189.79" r="2.6"/><circle cx="349.94" cy="173.63" r="2.6"/><circle cx="349.6" cy="146.09" r="2.6"/><circle cx="355.68" cy="125.61" r="2.6"/><circle cx="360.27" cy="114.79" r="2.6"/><circle cx="346.78" cy="101.76" r="2.6"/><circle cx="352.84" cy="82.76" r="2.6"/><circle cx="357.84" cy="76.02" r="2.6"/><circle cx="357" cy="69.62" r="2.6"/><circle cx="352" cy="64.66" r="2.6"/><circle cx="353.4" cy="60.12" r="2.6"/><circle cx="356.05" cy="203.75" r="2.6"/><circle cx="345.85" cy="180.14" r="2.6"/><circle cx="357.06" cy="162.86" r="2.6"/><circle cx="365.72" cy="151.09" r="2.6"/><circle cx="348.99" cy="140.8" r="2.6"/><circle cx="353.94" cy="136.31" r="2.6"/><circle cx="345.27" cy="130.44" r="2.6"/><circle cx="354.83" cy="124.19" r="2.6"/><circle cx="365.66" cy="115.13" r="2.6"/><circle cx="355.41" cy="108.68" r="2.6"/><circle cx="347.56" cy="103.62" r="2.6"/><circle cx="349.88" cy="97.22" r="2.6"/><circle cx="118.72" cy="295.2" r="2.6"/><circle cx="124.23" cy="275.91" r="2.6"/><circle cx="114.6" cy="258" r="2.6"/><circle cx="115.47" cy="253.06" r="2.6"/><circle cx="123.09" cy="244.61" r="2.6"/><circle cx="106.29" cy="228.42" r="2.6"/><circle cx="126.48" cy="209.39" r="2.6"/><circle cx="114.87" cy="195.45" r="2.6"/><circle cx="111.69" cy="178.84" r="2.6"/><circle cx="122.36" cy="206.21" r="2.6"/><circle cx="109.89" cy="278.92" r="2.6"/><circle cx="107.27" cy="292.19" r="2.6"/><circle cx="109.93" cy="319.46" r="2.6"/><circle cx="119.83" cy="312.79" r="2.6"/><circle cx="106.18" cy="306.05" r="2.6"/><circle cx="114.55" cy="299.19" r="2.6"/><circle cx="109.4" cy="292.04" r="2.6"/><circle cx="116.8" cy="284.42" r="2.6"/><circle cx="107.07" cy="277.2" r="2.6"/><circle cx="122.25" cy="269.41" r="2.6"/><circle cx="125.83" cy="304.06" r="2.6"/><circle cx="111.4" cy="294.65" r="2.6"/><circle cx="112.23" cy="284.49" r="2.6"/><circle cx="118.05" cy="271.72" r="2.6"/><circle cx="121.41" cy="291.32" r="2.6"/><circle cx="105.16" cy="274.3" r="2.6"/><circle cx="119.88" cy="257.6" r="2.6"/><circle cx="123.21" cy="241.56" r="2.6"/><circle cx="122.69" cy="224.68" r="2.6"/><circle cx="114.24" cy="193.71" r="2.6"/><circle cx="123.41" cy="162.46" r="2.6"/><circle cx="116.83" cy="135.41" r="2.6"/><circle cx="103.9" cy="118.69" r="2.6"/><circle cx="118.1" cy="100.13" r="2.6"/><circle cx="114" cy="92.29" r="2.6"/><circle cx="120.1" cy="84.23" r="2.6"/><circle cx="122.92" cy="331.39" r="2.6"/><circle cx="120.84" cy="316.9" r="2.6"/><circle cx="108.86" cy="303.75" r="2.6"/><circle cx="113.26" cy="290.27" r="2.6"/><circle cx="122.35" cy="277.21" r="2.6"/><circle cx="114.71" cy="263.75" r="2.6"/><circle cx="109.14" cy="249.9" r="2.6"/><circle cx="126.14" cy="247.37" r="2.6"/><circle cx="114.49" cy="228.38" r="2.6"/><circle cx="111.14" cy="210.05" r="2.6"/><circle cx="115.98" cy="194.75" r="2.6"/><circle cx="110.96" cy="180.44" r="2.6"/><circle cx="110.23" cy="334.2" r="2.6"/><circle cx="119.56" cy="327.9" r="2.6"/><circle cx="122.75" cy="319.92" r="2.6"/><circle cx="113.53" cy="312.78" r="2.6"/><circle cx="107.61" cy="297.67" r="2.6"/><circle cx="115.13" cy="284.4" r="2.6"/><circle cx="113.36" cy="271.96" r="2.6"/><circle cx="114.17" cy="259.93" r="2.6"/><circle cx="109.5" cy="246.91" r="2.6"/><circle cx="122.14" cy="259.68" r="2.6"/><circle cx="108.6" cy="276.16" r="2.6"/><circle cx="104.7" cy="254.32" r="2.6"/><circle cx="359.18" cy="253.26" r="2.6"/><circle cx="360.19" cy="229.12" r="2.6"/><circle cx="348.16" cy="205.02" r="2.6"/><circle cx="346.6" cy="180.92" r="2.6"/><circle cx="356.32" cy="156.79" r="2.6"/><circle cx="364.42" cy="141.9" r="2.6"/><circle cx="348.53" cy="123.7" r="2.6"/><circle cx="355.35" cy="113.75" r="2.6"/><circle cx="348.78" cy="105.84" r="2.6"/><circle cx="360.17" cy="97.59" r="2.6"/><circle cx="353.61" cy="90.25" r="2.6"/><circle cx="351.51" cy="82.31" r="2.6"/><circle cx="123.9" cy="351.25" r="2.6"/><circle cx="116.46" cy="340.5" r="2.6"/><circle cx="108.57" cy="329.69" r="2.6"/><circle cx="113.71" cy="319.41" r="2.6"/><circle cx="126.6" cy="309.53" r="2.6"/><circle cx="122.9" cy="298.01" r="2.6"/><circle cx="116" cy="283.41" r="2.6"/><circle cx="119.54" cy="267.18" r="2.6"/><circle cx="107.17" cy="253.75" r="2.6"/><circle cx="113.64" cy="243.71" r="2.6"/><circle cx="125.13" cy="231.01" r="2.6"/><circle cx="108.26" cy="213.44" r="2.6"/><circle cx="127.21" cy="305.78" r="2.6"/><circle cx="124.02" cy="293.87" r="2.6"/><circle cx="120.15" cy="281.21" r="2.6"/><circle cx="112.69" cy="267.67" r="2.6"/><circle cx="105.97" cy="253.43" r="2.6"/><circle cx="110.81" cy="237.41" r="2.6"/><circle cx="121.46" cy="219.2" r="2.6"/><circle cx="113.84" cy="202.31" r="2.6"/><circle cx="122.94" cy="187.81" r="2.6"/><circle cx="108.92" cy="173.9" r="2.6"/><circle cx="123.44" cy="161.85" r="2.6"/><circle cx="124.3" cy="149.14" r="2.6"/><circle cx="121.01" cy="236.53" r="2.6"/><circle cx="108.64" cy="189.42" r="2.6"/><circle cx="109.09" cy="175.12" r="2.6"/><circle cx="105.31" cy="166.43" r="2.6"/><circle cx="105" cy="157.23" r="2.6"/><circle cx="121.41" cy="144.06" r="2.6"/><circle cx="115.51" cy="132.25" r="2.6"/><circle cx="118.9" cy="118.79" r="2.6"/><circle cx="109.8" cy="112.13" r="2.6"/><circle cx="119.3" cy="105.56" r="2.6"/><circle cx="121" cy="97.48" r="2.6"/><circle cx="121.8" cy="91.86" r="2.6"/><circle cx="225.5" cy="237.83" r="2.6"/><circle cx="241.72" cy="208.65" r="2.6"/><circle cx="236.39" cy="188.03" r="2.6"/><circle cx="223.23" cy="176.02" r="2.6"/><circle cx="237.84" cy="161.09" r="2.6"/><circle cx="229.8" cy="143.38" r="2.6"/><circle cx="231.49" cy="127.65" r="2.6"/><circle cx="246.26" cy="113.77" r="2.6"/><circle cx="240.85" cy="100.79" r="2.6"/><circle cx="224.42" cy="86.1" r="2.6"/><circle cx="239.37" cy="77.93" r="2.6"/><circle cx="223.43" cy="69.36" r="2.6"/><circle cx="359" cy="294.5" r="2.6"/><circle cx="356.71" cy="274.58" r="2.6"/><circle cx="357.52" cy="254.66" r="2.6"/><circle cx="342.86" cy="234.75" r="2.6"/><circle cx="344.47" cy="218.17" r="2.6"/><circle cx="355.02" cy="206.65" r="2.6"/><circle cx="351.58" cy="193.4" r="2.6"/><circle cx="362" cy="175.28" r="2.6"/><circle cx="349.24" cy="168.32" r="2.6"/><circle cx="352.01" cy="152.71" r="2.6"/><circle cx="345.33" cy="143.38" r="2.6"/><circle cx="354.47" cy="131.64" r="2.6"/><circle cx="476.5" cy="182.29" r="2.6"/><circle cx="474" cy="167.15" r="2.6"/><circle cx="480" cy="152.03" r="2.6"/><circle cx="465.73" cy="129.15" r="2.6"/><circle cx="482.96" cy="106.22" r="2.6"/><circle cx="474.05" cy="90.11" r="2.6"/><circle cx="464.81" cy="83.24" r="2.6"/><circle cx="480.49" cy="78.18" r="2.6"/><circle cx="483" cy="74.4" r="2.6"/><circle cx="465.27" cy="74.33" r="2.6"/><circle cx="464.61" cy="84.04" r="2.6"/><circle cx="467.81" cy="80.31" r="2.6"/><circle cx="116.06" cy="290.32" r="2.6"/><circle cx="126.45" cy="273.42" r="2.6"/><circle cx="124.31" cy="256.83" r="2.6"/><circle cx="111.52" cy="240.84" r="2.6"/><circle cx="104.66" cy="224.08" r="2.6"/><circle cx="117.99" cy="205.07" r="2.6"/><circle cx="117.49" cy="179.07" r="2.6"/><circle cx="109.54" cy="159" r="2.6"/><circle cx="118.18" cy="140.99" r="2.6"/><circle cx="127.2" cy="125.96" r="2.6"/><circle cx="119" cy="112.99" r="2.6"/><circle cx="104.3" cy="102.72" r="2.6"/><circle cx="111" cy="367.16" r="2.6"/><circle cx="118.5" cy="350.63" r="2.6"/><circle cx="106.85" cy="334.83" r="2.6"/><circle cx="107.88" cy="321.89" r="2.6"/><circle cx="122.15" cy="307.2" r="2.6"/><circle cx="106.81" cy="292.83" r="2.6"/><circle cx="105.95" cy="290.84" r="2.6"/><circle cx="118.74" cy="290.4" r="2.6"/><circle cx="122.08" cy="280.97" r="2.6"/><circle cx="121.83" cy="267.31" r="2.6"/><circle cx="114.11" cy="282.68" r="2.6"/><circle cx="125.65" cy="295.57" r="2.6"/><circle cx="361.25" cy="333.79" r="2.6"/><circle cx="364.6" cy="296.74" r="2.6"/><circle cx="351.28" cy="275.5" r="2.6"/><circle cx="355.5" cy="247.18" r="2.6"/><circle cx="347.08" cy="222.71" r="2.6"/><circle cx="345.98" cy="202.88" r="2.6"/><circle cx="365.94" cy="189.64" r="2.6"/><circle cx="349.68" cy="187.77" r="2.6"/><circle cx="354.39" cy="181.26" r="2.6"/><circle cx="364.34" cy="174.58" r="2.6"/><circle cx="349.69" cy="177.36" r="2.6"/><circle cx="351.22" cy="163.03" r="2.6"/><circle cx="117.22" cy="297.94" r="2.6"/><circle cx="105.4" cy="274.72" r="2.6"/><circle cx="104.33" cy="253.77" r="2.6"/><circle cx="118.88" cy="235.38" r="2.6"/><circle cx="112.63" cy="217.42" r="2.6"/><circle cx="105.67" cy="200.38" r="2.6"/><circle cx="110.61" cy="183.59" r="2.6"/><circle cx="120.33" cy="171.21" r="2.6"/><circle cx="121.9" cy="163.49" r="2.6"/><circle cx="115.84" cy="183.99" r="2.6"/><circle cx="109.04" cy="233.26" r="2.6"/><circle cx="123.81" cy="223.79" r="2.6"/><circle cx="350" cy="334.86" r="2.6"/><circle cx="347.1" cy="324.72" r="2.6"/><circle cx="361.75" cy="313.4" r="2.6"/><circle cx="365" cy="299.62" r="2.6"/><circle cx="360.93" cy="283.04" r="2.6"/><circle cx="354.43" cy="264.63" r="2.6"/><circle cx="352.83" cy="245.76" r="2.6"/><circle cx="356.14" cy="226.24" r="2.6"/><circle cx="358.25" cy="205.09" r="2.6"/><circle cx="355.78" cy="180.56" r="2.6"/><circle cx="359.07" cy="167.86" r="2.6"/><circle cx="344.56" cy="151.65" r="2.6"/><circle cx="471.77" cy="96.31" r="2.6"/><circle cx="479.8" cy="90.61" r="2.6"/><circle cx="472.27" cy="89.02" r="2.6"/><circle cx="484.98" cy="85.11" r="2.6"/><circle cx="474.56" cy="85.57" r="2.6"/><circle cx="469.23" cy="75.69" r="2.6"/><circle cx="483.1" cy="70.32" r="2.6"/><circle cx="471.89" cy="65.15" r="2.6"/><circle cx="474.85" cy="61.23" r="2.6"/><circle cx="477.12" cy="57.19" r="2.6"/><circle cx="482.24" cy="53.87" r="2.6"/><circle cx="466.81" cy="45.7" r="2.6"/><circle cx="601" cy="114.48" r="2.6"/><circle cx="597.7" cy="108.71" r="2.6"/><circle cx="596.8" cy="102.22" r="2.6"/><circle cx="587.3" cy="100.36" r="2.6"/><circle cx="599.2" cy="97.9" r="2.6"/><circle cx="597.3" cy="95.72" r="2.6"/><circle cx="586.7" cy="84.97" r="2.6"/><circle cx="588.7" cy="81.79" r="2.6"/><circle cx="586.6" cy="68.46" r="2.6"/><circle cx="593.2" cy="60.37" r="2.6"/><circle cx="587.2" cy="50.03" r="2.6"/><circle cx="590.4" cy="42.77" r="2.6"/><circle cx="231.6" cy="294.03" r="2.6"/><circle cx="237.25" cy="273.36" r="2.6"/><circle cx="244.5" cy="252.14" r="2.6"/><circle cx="227" cy="230.57" r="2.6"/><circle cx="229.08" cy="208.91" r="2.6"/><circle cx="227.48" cy="193.53" r="2.6"/><circle cx="226.09" cy="181.41" r="2.6"/><circle cx="226.21" cy="163.44" r="2.6"/><circle cx="231.98" cy="138" r="2.6"/><circle cx="226.19" cy="120.88" r="2.6"/><circle cx="241.58" cy="104.89" r="2.6"/><circle cx="232.73" cy="91.21" r="2.6"/><circle cx="106.56" cy="326.33" r="2.6"/><circle cx="119.32" cy="318.67" r="2.6"/><circle cx="122.59" cy="312.78" r="2.6"/><circle cx="112.36" cy="308.59" r="2.6"/><circle cx="103.92" cy="305.76" r="2.6"/><circle cx="119.29" cy="300.82" r="2.6"/><circle cx="121.77" cy="292.15" r="2.6"/><circle cx="125" cy="279.17" r="2.6"/><circle cx="120.8" cy="260.36" r="2.6"/><circle cx="118.02" cy="234.36" r="2.6"/><circle cx="111.96" cy="213.25" r="2.6"/><circle cx="109.59" cy="197.53" r="2.6"/><circle cx="105.32" cy="333.75" r="2.6"/><circle cx="123.33" cy="323.95" r="2.6"/><circle cx="117.15" cy="313.62" r="2.6"/><circle cx="110.64" cy="302.48" r="2.6"/><circle cx="106.75" cy="290.67" r="2.6"/><circle cx="110.66" cy="279.44" r="2.6"/><circle cx="121.86" cy="270.74" r="2.6"/><circle cx="108.92" cy="263.71" r="2.6"/><circle cx="105.02" cy="259.83" r="2.6"/><circle cx="112.84" cy="259.88" r="2.6"/><circle cx="111.79" cy="265.56" r="2.6"/><circle cx="120.41" cy="263.89" r="2.6"/><circle cx="475.08" cy="92.73" r="2.6"/><circle cx="473.09" cy="87.63" r="2.6"/><circle cx="485.11" cy="87.43" r="2.6"/><circle cx="481.96" cy="83.38" r="2.6"/><circle cx="464.87" cy="81.66" r="2.6"/><circle cx="467.74" cy="74.83" r="2.6"/><circle cx="471.82" cy="70.85" r="2.6"/><circle cx="463.52" cy="71.38" r="2.6"/><circle cx="479.91" cy="61.9" r="2.6"/><circle cx="480.15" cy="55.27" r="2.6"/><circle cx="468.79" cy="50.42" r="2.6"/><circle cx="472" cy="42.83" r="2.6"/><circle cx="352.1" cy="325.44" r="2.6"/><circle cx="349.6" cy="308.85" r="2.6"/><circle cx="357.3" cy="288.39" r="2.6"/><circle cx="358.52" cy="263.04" r="2.6"/><circle cx="359.59" cy="228.85" r="2.6"/><circle cx="365.65" cy="194.21" r="2.6"/><circle cx="364.27" cy="158.66" r="2.6"/><circle cx="352.33" cy="125.46" r="2.6"/><circle cx="352.77" cy="102.5" r="2.6"/><circle cx="343.03" cy="93.87" r="2.6"/><circle cx="352.43" cy="82.63" r="2.6"/><circle cx="346.69" cy="73.04" r="2.6"/><circle cx="345.33" cy="286.59" r="2.6"/><circle cx="361.94" cy="272.53" r="2.6"/><circle cx="342.99" cy="258.51" r="2.6"/><circle cx="345.55" cy="244.39" r="2.6"/><circle cx="358.32" cy="230.27" r="2.6"/><circle cx="356" cy="216.25" r="2.6"/><circle cx="352.71" cy="202.23" r="2.6"/><circle cx="361.74" cy="188.39" r="2.6"/><circle cx="348.15" cy="171.19" r="2.6"/><circle cx="347.4" cy="164.7" r="2.6"/><circle cx="354.73" cy="152.81" r="2.6"/><circle cx="345.01" cy="140.39" r="2.6"/><circle cx="239.57" cy="208.64" r="2.6"/><circle cx="245.44" cy="182.05" r="2.6"/><circle cx="242.49" cy="164.7" r="2.6"/><circle cx="244.15" cy="149.75" r="2.6"/><circle cx="224.86" cy="135.53" r="2.6"/><circle cx="233.24" cy="119.18" r="2.6"/><circle cx="244.67" cy="107.31" r="2.6"/><circle cx="243.2" cy="100.34" r="2.6"/><circle cx="237.29" cy="94.11" r="2.6"/><circle cx="238.74" cy="85.65" r="2.6"/><circle cx="229.47" cy="79.19" r="2.6"/><circle cx="229.45" cy="73.72" r="2.6"/><circle cx="224.71" cy="159.18" r="2.6"/><circle cx="244.65" cy="155.56" r="2.6"/><circle cx="230.02" cy="147.83" r="2.6"/><circle cx="246.81" cy="143.92" r="2.6"/><circle cx="223.28" cy="138.19" r="2.6"/><circle cx="242.19" cy="134.62" r="2.6"/><circle cx="235.67" cy="131.17" r="2.6"/><circle cx="224.12" cy="127.83" r="2.6"/><circle cx="238.95" cy="122.21" r="2.6"/><circle cx="239.89" cy="114.42" r="2.6"/><circle cx="239.82" cy="105.43" r="2.6"/><circle cx="239.73" cy="98.82" r="2.6"/><circle cx="237.9" cy="283.5" r="2.6"/><circle cx="224.75" cy="267.84" r="2.6"/><circle cx="242.8" cy="249.06" r="2.6"/><circle cx="224.3" cy="233.48" r="2.6"/><circle cx="234.64" cy="206.94" r="2.6"/><circle cx="229.51" cy="187.05" r="2.6"/><circle cx="246.82" cy="167.43" r="2.6"/><circle cx="229.79" cy="149.34" r="2.6"/><circle cx="233.64" cy="133.93" r="2.6"/><circle cx="239.77" cy="121.14" r="2.6"/><circle cx="242.17" cy="111.06" r="2.6"/><circle cx="230.68" cy="101.01" r="2.6"/><circle cx="343.31" cy="257.97" r="2.6"/><circle cx="356.26" cy="234.22" r="2.6"/><circle cx="356.6" cy="211.52" r="2.6"/><circle cx="359.88" cy="200.67" r="2.6"/><circle cx="348.69" cy="189.58" r="2.6"/><circle cx="362.06" cy="176.35" r="2.6"/><circle cx="360.94" cy="162.94" r="2.6"/><circle cx="363.03" cy="149.22" r="2.6"/><circle cx="360.51" cy="133.93" r="2.6"/><circle cx="358.53" cy="119.96" r="2.6"/><circle cx="355.69" cy="108.43" r="2.6"/><circle cx="362.93" cy="99.24" r="2.6"/><circle cx="466.1" cy="168.06" r="2.6"/><circle cx="477.68" cy="138.49" r="2.6"/><circle cx="480.72" cy="126.09" r="2.6"/><circle cx="480.3" cy="113.02" r="2.6"/><circle cx="464.91" cy="104.8" r="2.6"/><circle cx="469.3" cy="105.99" r="2.6"/><circle cx="484.08" cy="101.68" r="2.6"/><circle cx="480.3" cy="103.94" r="2.6"/><circle cx="465.5" cy="103.87" r="2.6"/><circle cx="473.35" cy="92.2" r="2.6"/><circle cx="481.17" cy="79.47" r="2.6"/><circle cx="482.33" cy="73.55" r="2.6"/><circle cx="473.4" cy="177.94" r="2.6"/><circle cx="484" cy="166.74" r="2.6"/><circle cx="482.1" cy="147.64" r="2.6"/><circle cx="462.39" cy="132.98" r="2.6"/><circle cx="465.77" cy="115.34" r="2.6"/><circle cx="463.27" cy="107.72" r="2.6"/><circle cx="478.52" cy="92.07" r="2.6"/><circle cx="478.54" cy="83.51" r="2.6"/><circle cx="472.39" cy="78.21" r="2.6"/><circle cx="482.84" cy="70.85" r="2.6"/><circle cx="465.3" cy="62.1" r="2.6"/><circle cx="466.44" cy="56.74" r="2.6"/><circle cx="237.71" cy="148.37" r="2.6"/><circle cx="235.72" cy="120.12" r="2.6"/><circle cx="226.04" cy="112.96" r="2.6"/><circle cx="244.77" cy="103.14" r="2.6"/><circle cx="237.96" cy="96.11" r="2.6"/><circle cx="237.63" cy="87.63" r="2.6"/><circle cx="232.03" cy="85.57" r="2.6"/><circle cx="237.59" cy="79.73" r="2.6"/><circle cx="224.83" cy="84.5" r="2.6"/><circle cx="230.31" cy="77.83" r="2.6"/><circle cx="241.5" cy="58.86" r="2.6"/><circle cx="243.9" cy="52.44" r="2.6"/><circle cx="116.33" cy="225" r="2.6"/><circle cx="105.04" cy="209.31" r="2.6"/><circle cx="111.45" cy="192.23" r="2.6"/><circle cx="127.27" cy="173.16" r="2.6"/><circle cx="126.29" cy="148.41" r="2.6"/><circle cx="123.35" cy="129.91" r="2.6"/><circle cx="111.4" cy="111.2" r="2.6"/><circle cx="117" cy="97.75" r="2.6"/><circle cx="127.3" cy="86.47" r="2.6"/><circle cx="126.9" cy="78.79" r="2.6"/><circle cx="123.7" cy="72.35" r="2.6"/><circle cx="121.1" cy="67.72" r="2.6"/><circle cx="470" cy="169.79" r="2.6"/><circle cx="474.6" cy="149.56" r="2.6"/><circle cx="474.4" cy="131.66" r="2.6"/><circle cx="482.35" cy="131.66" r="2.6"/><circle cx="463.63" cy="115.68" r="2.6"/><circle cx="463.04" cy="114.02" r="2.6"/><circle cx="482.01" cy="112.69" r="2.6"/><circle cx="464.41" cy="113.55" r="2.6"/><circle cx="478.88" cy="114.68" r="2.6"/><circle cx="476.24" cy="112.29" r="2.6"/><circle cx="466.76" cy="101.67" r="2.6"/><circle cx="468.02" cy="94.02" r="2.6"/><circle cx="121.43" cy="309.38" r="2.6"/><circle cx="104.29" cy="299.43" r="2.6"/><circle cx="126.58" cy="289.48" r="2.6"/><circle cx="104.85" cy="282.19" r="2.6"/><circle cx="107.63" cy="278.87" r="2.6"/><circle cx="119.05" cy="276.22" r="2.6"/><circle cx="106.5" cy="268.14" r="2.6"/><circle cx="127.59" cy="282.72" r="2.6"/><circle cx="114.9" cy="418.14" r="2.6"/><circle cx="105.42" cy="335.32" r="2.6"/><circle cx="107.71" cy="286.74" r="2.6"/><circle cx="116.72" cy="267.98" r="2.6"/><circle cx="124.55" cy="266.47" r="2.6"/><circle cx="109.91" cy="250.06" r="2.6"/><circle cx="113.31" cy="230.51" r="2.6"/><circle cx="117.35" cy="213.72" r="2.6"/><circle cx="119.3" cy="200.09" r="2.6"/><circle cx="121.04" cy="186.37" r="2.6"/><circle cx="111.52" cy="174.42" r="2.6"/><circle cx="112.62" cy="165.29" r="2.6"/><circle cx="124.63" cy="158.57" r="2.6"/><circle cx="125.4" cy="154.83" r="2.6"/><circle cx="113.74" cy="147.99" r="2.6"/><circle cx="127.56" cy="140.09" r="2.6"/><circle cx="346.5" cy="310.21" r="2.6"/><circle cx="345" cy="290.36" r="2.6"/><circle cx="364.16" cy="270.16" r="2.6"/><circle cx="355.94" cy="243.72" r="2.6"/><circle cx="358.98" cy="217.29" r="2.6"/><circle cx="343.9" cy="185.44" r="2.6"/><circle cx="362.58" cy="156.78" r="2.6"/><circle cx="358.77" cy="135.01" r="2.6"/><circle cx="356.27" cy="118.61" r="2.6"/><circle cx="356.34" cy="106.9" r="2.6"/><circle cx="346.28" cy="99.66" r="2.6"/><circle cx="362.69" cy="92.02" r="2.6"/><circle cx="116.4" cy="327.43" r="2.6"/><circle cx="118.28" cy="313.83" r="2.6"/><circle cx="107.83" cy="299.73" r="2.6"/><circle cx="118.77" cy="285.75" r="2.6"/><circle cx="109.46" cy="270.82" r="2.6"/><circle cx="121.97" cy="250.5" r="2.6"/><circle cx="104.43" cy="227.29" r="2.6"/><circle cx="106.74" cy="204.81" r="2.6"/><circle cx="108.81" cy="188.71" r="2.6"/><circle cx="113.34" cy="175.51" r="2.6"/><circle cx="124.56" cy="166.14" r="2.6"/><circle cx="103.94" cy="156.45" r="2.6"/><circle cx="485" cy="190.04" r="2.6"/><circle cx="470.5" cy="165.58" r="2.6"/><circle cx="465.5" cy="146.7" r="2.6"/><circle cx="468.93" cy="130.9" r="2.6"/><circle cx="465.73" cy="119.06" r="2.6"/><circle cx="473.25" cy="108.45" r="2.6"/><circle cx="469.97" cy="109.36" r="2.6"/><circle cx="468.06" cy="102.36" r="2.6"/><circle cx="476.41" cy="99.44" r="2.6"/><circle cx="467.64" cy="95.64" r="2.6"/><circle cx="485.01" cy="89.13" r="2.6"/><circle cx="467.77" cy="83.9" r="2.6"/><circle cx="126" cy="373.49" r="2.6"/><circle cx="127.25" cy="365.28" r="2.6"/><circle cx="109.75" cy="357.34" r="2.6"/><circle cx="105.27" cy="348.41" r="2.6"/><circle cx="103.95" cy="339.88" r="2.6"/><circle cx="106.1" cy="330.68" r="2.6"/><circle cx="120.65" cy="319.69" r="2.6"/><circle cx="109.33" cy="309.34" r="2.6"/><circle cx="110.35" cy="320.43" r="2.6"/><circle cx="119.84" cy="310.06" r="2.6"/><circle cx="104.48" cy="302.67" r="2.6"/><circle cx="116.67" cy="292.35" r="2.6"/><circle cx="352.02" cy="174.12" r="2.6"/><circle cx="346.32" cy="155.67" r="2.6"/><circle cx="364.23" cy="138.3" r="2.6"/><circle cx="351.07" cy="124.06" r="2.6"/><circle cx="349.42" cy="113.61" r="2.6"/><circle cx="359.04" cy="105.17" r="2.6"/><circle cx="362.88" cy="98.77" r="2.6"/><circle cx="347.91" cy="86.83" r="2.6"/><circle cx="345.5" cy="72.06" r="2.6"/><circle cx="350.6" cy="62.97" r="2.6"/><circle cx="353.4" cy="52.28" r="2.6"/><circle cx="345" cy="44.31" r="2.6"/><circle cx="478.4" cy="147.84" r="2.6"/><circle cx="481.57" cy="127.35" r="2.6"/><circle cx="472.05" cy="108.25" r="2.6"/><circle cx="479.88" cy="103.94" r="2.6"/><circle cx="474.29" cy="108.12" r="2.6"/><circle cx="463.71" cy="107.45" r="2.6"/><circle cx="473.97" cy="105.13" r="2.6"/><circle cx="482.23" cy="103.28" r="2.6"/><circle cx="474.49" cy="101.29" r="2.6"/><circle cx="471.19" cy="92.47" r="2.6"/><circle cx="462.42" cy="85.24" r="2.6"/><circle cx="478.55" cy="79.52" r="2.6"/><circle cx="471.18" cy="139.81" r="2.6"/><circle cx="469.53" cy="124.7" r="2.6"/><circle cx="470.64" cy="116.07" r="2.6"/><circle cx="471.78" cy="115.88" r="2.6"/><circle cx="469.83" cy="111.63" r="2.6"/><circle cx="468.77" cy="104.01" r="2.6"/><circle cx="472.8" cy="103.39" r="2.6"/><circle cx="462.92" cy="95.52" r="2.6"/><circle cx="467.2" cy="86.3" r="2.6"/><circle cx="472.27" cy="76.42" r="2.6"/><circle cx="482.93" cy="66.27" r="2.6"/><circle cx="472.03" cy="57.88" r="2.6"/><circle cx="110.6" cy="355.94" r="2.6"/><circle cx="125.1" cy="342.69" r="2.6"/><circle cx="123.01" cy="329.4" r="2.6"/><circle cx="120.78" cy="316.16" r="2.6"/><circle cx="118.56" cy="302.92" r="2.6"/><circle cx="118" cy="296.29" r="2.6"/><circle cx="108.32" cy="289.78" r="2.6"/><circle cx="107" cy="279.53" r="2.6"/><circle cx="105.1" cy="311.64" r="2.6"/><circle cx="106.01" cy="284.21" r="2.6"/><circle cx="118.45" cy="270.01" r="2.6"/><circle cx="118.3" cy="255.27" r="2.6"/><circle cx="104.66" cy="276.16" r="2.6"/><circle cx="123.78" cy="256.43" r="2.6"/><circle cx="114.31" cy="243.39" r="2.6"/><circle cx="116.63" cy="230.29" r="2.6"/><circle cx="105.53" cy="218.55" r="2.6"/><circle cx="124.26" cy="206.41" r="2.6"/><circle cx="105.68" cy="188.95" r="2.6"/><circle cx="108.81" cy="171.22" r="2.6"/><circle cx="114.88" cy="164.23" r="2.6"/><circle cx="115.65" cy="175.19" r="2.6"/><circle cx="116.5" cy="220.75" r="2.6"/><circle cx="126.12" cy="247.45" r="2.6"/><circle cx="469.6" cy="143.99" r="2.6"/><circle cx="477.95" cy="132.59" r="2.6"/><circle cx="472.07" cy="112.49" r="2.6"/><circle cx="481.2" cy="100.89" r="2.6"/><circle cx="477.74" cy="90.15" r="2.6"/><circle cx="481.21" cy="81.33" r="2.6"/><circle cx="482.42" cy="68.66" r="2.6"/><circle cx="480.44" cy="64.68" r="2.6"/><circle cx="464.97" cy="60.24" r="2.6"/><circle cx="474.63" cy="52.28" r="2.6"/><circle cx="480.27" cy="45.58" r="2.6"/><circle cx="484.4" cy="37.88" r="2.6"/><circle cx="364.59" cy="192.71" r="2.6"/><circle cx="352.39" cy="167.1" r="2.6"/><circle cx="342.68" cy="162.21" r="2.6"/><circle cx="359.82" cy="148.46" r="2.6"/><circle cx="349.1" cy="143.32" r="2.6"/><circle cx="358.11" cy="137.3" r="2.6"/><circle cx="343.63" cy="118.68" r="2.6"/><circle cx="350.95" cy="117" r="2.6"/><circle cx="357.58" cy="107.92" r="2.6"/><circle cx="345.47" cy="107.41" r="2.6"/><circle cx="350.04" cy="105.03" r="2.6"/><circle cx="345.93" cy="94.55" r="2.6"/><circle cx="125.04" cy="318.43" r="2.6"/><circle cx="122.26" cy="311.87" r="2.6"/><circle cx="119.01" cy="303.61" r="2.6"/><circle cx="116.18" cy="290.42" r="2.6"/><circle cx="127.11" cy="275.67" r="2.6"/><circle cx="109.95" cy="257.65" r="2.6"/><circle cx="120.61" cy="240.82" r="2.6"/><circle cx="105.83" cy="231.5" r="2.6"/><circle cx="118.61" cy="219.48" r="2.6"/><circle cx="108.44" cy="207.43" r="2.6"/><circle cx="104" cy="200.83" r="2.6"/><circle cx="125.48" cy="186.33" r="2.6"/><circle cx="110.44" cy="300.05" r="2.6"/><circle cx="127.41" cy="286.67" r="2.6"/><circle cx="120" cy="276.27" r="2.6"/><circle cx="119.79" cy="265.39" r="2.6"/><circle cx="119.85" cy="246.03" r="2.6"/><circle cx="127.46" cy="226.24" r="2.6"/><circle cx="109.14" cy="206.19" r="2.6"/><circle cx="127.35" cy="192.15" r="2.6"/><circle cx="111.45" cy="186.87" r="2.6"/><circle cx="106.02" cy="214.62" r="2.6"/><circle cx="125.79" cy="283.72" r="2.6"/><circle cx="106.1" cy="311.94" r="2.6"/><circle cx="473.16" cy="98.1" r="2.6"/><circle cx="481.72" cy="93.93" r="2.6"/><circle cx="468.41" cy="88.09" r="2.6"/><circle cx="479" cy="82.85" r="2.6"/><circle cx="477.13" cy="79.14" r="2.6"/><circle cx="478.31" cy="74.36" r="2.6"/><circle cx="465.41" cy="67.86" r="2.6"/><circle cx="478.59" cy="62.76" r="2.6"/><circle cx="481.85" cy="56.33" r="2.6"/><circle cx="465.19" cy="48.17" r="2.6"/><circle cx="461.5" cy="43.86" r="2.6"/><circle cx="461.5" cy="38.26" r="2.6"/><circle cx="469.42" cy="112.96" r="2.6"/><circle cx="484.62" cy="106.72" r="2.6"/><circle cx="484.21" cy="101.68" r="2.6"/><circle cx="464.59" cy="92.07" r="2.6"/><circle cx="479.57" cy="85.37" r="2.6"/><circle cx="484.78" cy="74.7" r="2.6"/><circle cx="481.47" cy="69.26" r="2.6"/><circle cx="464.98" cy="61.3" r="2.6"/><circle cx="471.55" cy="57.19" r="2.6"/><circle cx="475.27" cy="48.3" r="2.6"/><circle cx="465.1" cy="40.01" r="2.6"/><circle cx="479" cy="32.85" r="2.6"/><circle cx="344.77" cy="270.36" r="2.6"/><circle cx="342.63" cy="254.44" r="2.6"/><circle cx="349.77" cy="241.04" r="2.6"/><circle cx="352.57" cy="218.83" r="2.6"/><circle cx="356.28" cy="194.68" r="2.6"/><circle cx="365.27" cy="168.83" r="2.6"/><circle cx="344.6" cy="146.31" r="2.6"/><circle cx="350.75" cy="130.5" r="2.6"/><circle cx="363.23" cy="115.42" r="2.6"/><circle cx="362.17" cy="100.31" r="2.6"/><circle cx="345.14" cy="90.19" r="2.6"/><circle cx="358.6" cy="82.96" r="2.6"/><circle cx="344.6" cy="186.7" r="2.6"/><circle cx="365.04" cy="160.84" r="2.6"/><circle cx="348.67" cy="142.27" r="2.6"/><circle cx="356.93" cy="127.02" r="2.6"/><circle cx="353.7" cy="114.48" r="2.6"/><circle cx="354.69" cy="106.53" r="2.6"/><circle cx="347.57" cy="96.11" r="2.6"/><circle cx="351.03" cy="87.89" r="2.6"/><circle cx="349.21" cy="82.19" r="2.6"/><circle cx="357.16" cy="75.62" r="2.6"/><circle cx="350.25" cy="64.09" r="2.6"/><circle cx="362.1" cy="54.73" r="2.6"/><circle cx="116.58" cy="301.32" r="2.6"/><circle cx="119.67" cy="289.66" r="2.6"/><circle cx="127.06" cy="281.22" r="2.6"/><circle cx="116.51" cy="271.2" r="2.6"/><circle cx="116.82" cy="258.85" r="2.6"/><circle cx="118.43" cy="243.6" r="2.6"/><circle cx="116.84" cy="239.03" r="2.6"/><circle cx="113.59" cy="232.88" r="2.6"/><circle cx="109.64" cy="240.15" r="2.6"/><circle cx="116.58" cy="253.24" r="2.6"/><circle cx="109.65" cy="245.38" r="2.6"/><circle cx="119.51" cy="226.37" r="2.6"/><circle cx="363.62" cy="237.44" r="2.6"/><circle cx="361.56" cy="218.99" r="2.6"/><circle cx="361.24" cy="202.87" r="2.6"/><circle cx="347.55" cy="188.12" r="2.6"/><circle cx="343.27" cy="174.07" r="2.6"/><circle cx="347.33" cy="160.21" r="2.6"/><circle cx="356.08" cy="146.27" r="2.6"/><circle cx="345.45" cy="136.41" r="2.6"/><circle cx="344.86" cy="128.36" r="2.6"/><circle cx="366.28" cy="126.88" r="2.6"/><circle cx="350.92" cy="119.96" r="2.6"/><circle cx="343.98" cy="106.35" r="2.6"/><circle cx="115.98" cy="318.69" r="2.6"/><circle cx="120.42" cy="301.37" r="2.6"/><circle cx="114.76" cy="283.37" r="2.6"/><circle cx="106.91" cy="264.49" r="2.6"/><circle cx="116.06" cy="244.66" r="2.6"/><circle cx="105.42" cy="223.92" r="2.6"/><circle cx="121.21" cy="206.78" r="2.6"/><circle cx="126.19" cy="197.04" r="2.6"/><circle cx="104.77" cy="189.61" r="2.6"/><circle cx="117.39" cy="187.43" r="2.6"/><circle cx="123.61" cy="192.92" r="2.6"/><circle cx="119.06" cy="187.23" r="2.6"/><circle cx="226.68" cy="182.72" r="2.6"/><circle cx="224.75" cy="164.81" r="2.6"/><circle cx="234.04" cy="144.26" r="2.6"/><circle cx="224.27" cy="140.94" r="2.6"/><circle cx="243.09" cy="137.63" r="2.6"/><circle cx="235.44" cy="121.71" r="2.6"/><circle cx="230.68" cy="118.18" r="2.6"/><circle cx="241.52" cy="113.21" r="2.6"/><circle cx="228.24" cy="111.35" r="2.6"/><circle cx="235.38" cy="113.99" r="2.6"/><circle cx="235.2" cy="117.23" r="2.6"/><circle cx="225.6" cy="111.64" r="2.6"/><circle cx="122.89" cy="278.87" r="2.6"/><circle cx="120.45" cy="262.29" r="2.6"/><circle cx="108.52" cy="245.86" r="2.6"/><circle cx="114.06" cy="229.45" r="2.6"/><circle cx="111.16" cy="205.92" r="2.6"/><circle cx="126.15" cy="177.83" r="2.6"/><circle cx="119.71" cy="149.91" r="2.6"/><circle cx="126.31" cy="131.03" r="2.6"/><circle cx="106" cy="110.43" r="2.6"/><circle cx="105.2" cy="97.35" r="2.6"/><circle cx="114.7" cy="90.27" r="2.6"/><circle cx="125" cy="84.42" r="2.6"/><circle cx="484" cy="285.6" r="2.6"/><circle cx="469.5" cy="255.8" r="2.6"/><circle cx="474.6" cy="229.15" r="2.6"/><circle cx="479.4" cy="214.31" r="2.6"/><circle cx="473.6" cy="196.61" r="2.6"/><circle cx="483.4" cy="180.02" r="2.6"/><circle cx="483.8" cy="169.88" r="2.6"/><circle cx="480.9" cy="156.14" r="2.6"/><circle cx="463.39" cy="135.99" r="2.6"/><circle cx="467.77" cy="118.16" r="2.6"/><circle cx="475.2" cy="104.83" r="2.6"/><circle cx="482.16" cy="98.65" r="2.6"/><circle cx="109.32" cy="309.52" r="2.6"/><circle cx="125.18" cy="292.33" r="2.6"/><circle cx="127.05" cy="273.94" r="2.6"/><circle cx="105.9" cy="255.99" r="2.6"/><circle cx="121.06" cy="236.33" r="2.6"/><circle cx="113.26" cy="240.74" r="2.6"/><circle cx="107.06" cy="244.06" r="2.6"/><circle cx="109.08" cy="233.06" r="2.6"/><circle cx="112.4" cy="250.86" r="2.6"/><circle cx="104.2" cy="279.02" r="2.6"/><circle cx="120.35" cy="257.57" r="2.6"/><circle cx="114.6" cy="232.84" r="2.6"/><circle cx="470.07" cy="115.88" r="2.6"/><circle cx="482.52" cy="107.65" r="2.6"/><circle cx="484.88" cy="105.4" r="2.6"/><circle cx="472.75" cy="101.42" r="2.6"/><circle cx="469.23" cy="97.11" r="2.6"/><circle cx="476.21" cy="92.14" r="2.6"/><circle cx="471.49" cy="83.65" r="2.6"/><circle cx="483.09" cy="77.23" r="2.6"/><circle cx="468.7" cy="67.86" r="2.6"/><circle cx="464.87" cy="62.57" r="2.6"/><circle cx="462.17" cy="54.26" r="2.6"/><circle cx="465.88" cy="47.94" r="2.6"/><circle cx="225.38" cy="120.78" r="2.6"/><circle cx="244.86" cy="113.82" r="2.6"/><circle cx="239.35" cy="109.05" r="2.6"/><circle cx="236.99" cy="105.4" r="2.6"/><circle cx="245.67" cy="101.55" r="2.6"/><circle cx="237.87" cy="88.02" r="2.6"/><circle cx="239.97" cy="79.6" r="2.6"/><circle cx="226.9" cy="77.15" r="2.6"/><circle cx="229.98" cy="70.05" r="2.6"/><circle cx="240.5" cy="65.28" r="2.6"/><circle cx="233.9" cy="61.96" r="2.6"/><circle cx="236" cy="55.78" r="2.6"/><circle cx="233.95" cy="136.49" r="2.6"/><circle cx="229.85" cy="130.04" r="2.6"/><circle cx="230.02" cy="122.02" r="2.6"/><circle cx="236.84" cy="120.6" r="2.6"/><circle cx="245.06" cy="119.24" r="2.6"/><circle cx="246.42" cy="113.88" r="2.6"/><circle cx="236.62" cy="105.1" r="2.6"/><circle cx="223.7" cy="97.72" r="2.6"/><circle cx="229.72" cy="92.19" r="2.6"/><circle cx="238.77" cy="82.43" r="2.6"/><circle cx="245.19" cy="75.25" r="2.6"/><circle cx="229.75" cy="68.1" r="2.6"/><circle cx="242.9" cy="209.32" r="2.6"/><circle cx="244.11" cy="190.63" r="2.6"/><circle cx="225.26" cy="171.64" r="2.6"/><circle cx="244.72" cy="153.68" r="2.6"/><circle cx="237.33" cy="138.87" r="2.6"/><circle cx="243.32" cy="127.31" r="2.6"/><circle cx="239.2" cy="120.01" r="2.6"/><circle cx="239.32" cy="109.18" r="2.6"/><circle cx="244" cy="102.81" r="2.6"/><circle cx="241.33" cy="96.21" r="2.6"/><circle cx="232.88" cy="92.1" r="2.6"/><circle cx="232.25" cy="85.59" r="2.6"/><circle cx="344.6" cy="306.64" r="2.6"/><circle cx="348.77" cy="290.23" r="2.6"/><circle cx="351.46" cy="273.81" r="2.6"/><circle cx="345.9" cy="257.4" r="2.6"/><circle cx="350.56" cy="241.38" r="2.6"/><circle cx="356.41" cy="204.84" r="2.6"/><circle cx="347.09" cy="184.6" r="2.6"/><circle cx="352.63" cy="158.05" r="2.6"/><circle cx="357" cy="125.94" r="2.6"/><circle cx="351.66" cy="105.98" r="2.6"/><circle cx="360.49" cy="90.43" r="2.6"/><circle cx="354.77" cy="82.26" r="2.6"/><circle cx="350.23" cy="288.42" r="2.6"/><circle cx="359.77" cy="271.77" r="2.6"/><circle cx="355.69" cy="255.48" r="2.6"/><circle cx="353.25" cy="232.25" r="2.6"/><circle cx="346.31" cy="199.75" r="2.6"/><circle cx="366.02" cy="171.68" r="2.6"/><circle cx="346.62" cy="147.53" r="2.6"/><circle cx="351.65" cy="130.03" r="2.6"/><circle cx="356.44" cy="112.31" r="2.6"/><circle cx="364.74" cy="103.17" r="2.6"/><circle cx="349.66" cy="94.72" r="2.6"/><circle cx="345.2" cy="87.75" r="2.6"/><circle cx="355.9" cy="358.79" r="2.6"/><circle cx="363.1" cy="349.36" r="2.6"/><circle cx="353.4" cy="341.34" r="2.6"/><circle cx="344" cy="329.38" r="2.6"/><circle cx="347" cy="310.38" r="2.6"/><circle cx="363.48" cy="281.69" r="2.6"/><circle cx="342.5" cy="248.95" r="2.6"/><circle cx="358.69" cy="223.69" r="2.6"/><circle cx="363.59" cy="205.94" r="2.6"/><circle cx="349.15" cy="189.88" r="2.6"/><circle cx="362.7" cy="174.71" r="2.6"/><circle cx="356.77" cy="158.86" r="2.6"/><circle cx="111.42" cy="295.86" r="2.6"/><circle cx="104.8" cy="282.34" r="2.6"/><circle cx="119.57" cy="269.44" r="2.6"/><circle cx="112.73" cy="257.86" r="2.6"/><circle cx="116.75" cy="242.35" r="2.6"/><circle cx="108.51" cy="233.87" r="2.6"/><circle cx="104.24" cy="230.99" r="2.6"/><circle cx="106.08" cy="237.62" r="2.6"/><circle cx="119.07" cy="268.93" r="2.6"/><circle cx="106.81" cy="307.8" r="2.6"/><circle cx="110.88" cy="314.73" r="2.6"/><circle cx="117.9" cy="293.57" r="2.6"/><circle cx="110.29" cy="253.34" r="2.6"/><circle cx="115.06" cy="239.95" r="2.6"/><circle cx="113.62" cy="227.43" r="2.6"/><circle cx="122.33" cy="216.57" r="2.6"/><circle cx="113.4" cy="205.7" r="2.6"/><circle cx="110.53" cy="192.18" r="2.6"/><circle cx="127.31" cy="174.34" r="2.6"/><circle cx="107.9" cy="161.16" r="2.6"/><circle cx="119.06" cy="174.25" r="2.6"/><circle cx="118.66" cy="264.22" r="2.6"/><circle cx="112.12" cy="309.45" r="2.6"/><circle cx="121.52" cy="286.25" r="2.6"/></g>
<path d="M40.43 309.38H44.1M40.43 176.75H44.1M40.43 44.12H44.1M115.71 437.7V441.9M235.05 437.7V441.9M354.4 437.7V441.9M473.75 437.7V441.9M593.09 437.7V441.9" stroke="#262626" stroke-width="1.6" fill="none"/>
<g font-size="11.73" fill="#404040"><text x="37.4" y="314" text-anchor="end">40</text><text x="37.4" y="182" text-anchor="end">60</text><text x="37.4" y="49" text-anchor="end">80</text><text x="115.71" y="453" text-anchor="middle">Africa</text><text x="235.05" y="453" text-anchor="middle">Americas</text><text x="354.4" y="453" text-anchor="middle">Asia</text><text x="473.75" y="453" text-anchor="middle">Europe</text><text x="593.09" y="453" text-anchor="middle">Oceania</text></g>
<g font-size="14.67" fill="#000"><text x="354.4" y="469.9" text-anchor="middle">continent</text>
<text transform="translate(17.4 222.5) rotate(-90)" text-anchor="middle">lifeExp</text></g>
</svg>
</body></html>
